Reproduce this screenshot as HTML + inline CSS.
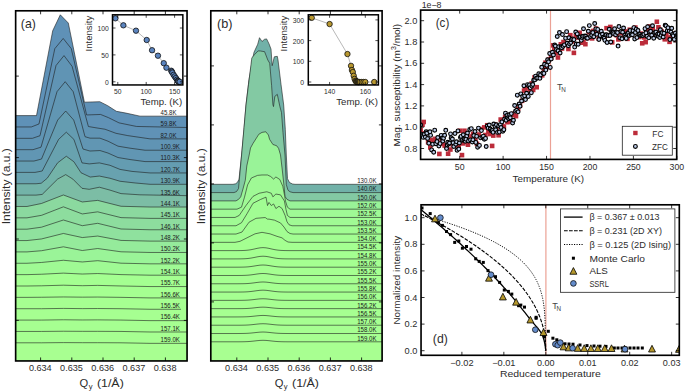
<!DOCTYPE html><html><head><meta charset="utf-8"><style>html,body{margin:0;padding:0;background:#fff;overflow:hidden}svg{display:block}</style></head><body><svg xmlns="http://www.w3.org/2000/svg" width="685" height="392" viewBox="0 0 685 392" font-family='"Liberation Sans", sans-serif'>
<rect width="685" height="392" fill="#fff"/>
<defs>
<clipPath id="ca"><rect x="15.65" y="10.8" width="171.4" height="350.15"/></clipPath>
<clipPath id="cb"><rect x="210.8" y="10.8" width="171.3" height="350.15"/></clipPath>
</defs>
<g clip-path="url(#ca)">
<polygon points="15.5,115.6 36.5,115.6 52.7,30.8 60.3,14.8 68.3,23 84.4,102.2 99.8,101.7 107.7,105.7 116.4,111.3 126,113.1 140,116.15 187,116.15 189.05,362.95 13.65,362.95" fill="#5f91b7" stroke="none"/>
<polyline points="15.5,115.6 36.5,115.6 52.7,30.8 60.3,14.8 68.3,23 84.4,102.2 99.8,101.7 107.7,105.7 116.4,111.3 126,113.1 140,116.15 187,116.15" fill="none" stroke="#1e1e1e" stroke-width="0.6" stroke-linejoin="round"/>
<polygon points="15.5,126.96 31.3,126.96 39,123.96 54.8,48.66 63.2,38.46 71.3,48.66 86.6,114.96 100.6,114.46 108.5,117.66 119,122.86 136.5,126.46 187,127.51 189.05,362.95 13.65,362.95" fill="#6092b6" stroke="none"/>
<polyline points="15.5,126.96 31.3,126.96 39,123.96 54.8,48.66 63.2,38.46 71.3,48.66 86.6,114.96 100.6,114.46 108.5,117.66 119,122.86 136.5,126.46 187,127.51" fill="none" stroke="#1e1e1e" stroke-width="0.6" stroke-linejoin="round"/>
<polygon points="15.5,138.32 32.4,138.32 40,135.72 56,65.52 64,55.62 72.1,66.32 88.4,126.52 96,127.82 105,129.22 116,133.32 127.8,135.62 150,138.87 187,138.87 189.05,362.95 13.65,362.95" fill="#6094b4" stroke="none"/>
<polyline points="15.5,138.32 32.4,138.32 40,135.72 56,65.52 64,55.62 72.1,66.32 88.4,126.52 96,127.82 105,129.22 116,133.32 127.8,135.62 150,138.87 187,138.87" fill="none" stroke="#1e1e1e" stroke-width="0.6" stroke-linejoin="round"/>
<polygon points="15.5,149.68 33,149.68 41,147.18 57,91.68 65.2,81.68 73.2,91.68 85,136.68 90,138.18 100,138.18 108,141.18 118,146.18 130,148.18 145,150.23 187,150.23 189.05,362.95 13.65,362.95" fill="#6196b3" stroke="none"/>
<polyline points="15.5,149.68 33,149.68 41,147.18 57,91.68 65.2,81.68 73.2,91.68 85,136.68 90,138.18 100,138.18 108,141.18 118,146.18 130,148.18 145,150.23 187,150.23" fill="none" stroke="#1e1e1e" stroke-width="0.6" stroke-linejoin="round"/>
<polygon points="15.5,161.04 34,161.04 41.5,159.04 57.7,120.04 65.7,111.04 73.7,120.04 83,149.04 90,151.04 100,150.54 108,153.04 118,157.54 130,159.54 145,161.59 187,161.59 189.05,362.95 13.65,362.95" fill="#649cb1" stroke="none"/>
<polyline points="15.5,161.04 34,161.04 41.5,159.04 57.7,120.04 65.7,111.04 73.7,120.04 83,149.04 90,151.04 100,150.54 108,153.04 118,157.54 130,159.54 145,161.59 187,161.59" fill="none" stroke="#1e1e1e" stroke-width="0.6" stroke-linejoin="round"/>
<polygon points="15.5,172.4 35,172.4 42.2,171 58.6,139.4 66.3,132.2 73.9,139.4 82,162.9 89.2,163.9 99.4,162.9 110,165.3 120,169.4 132,171.4 150,172.95 187,172.95 189.05,362.95 13.65,362.95" fill="#68a2af" stroke="none"/>
<polyline points="15.5,172.4 35,172.4 42.2,171 58.6,139.4 66.3,132.2 73.9,139.4 82,162.9 89.2,163.9 99.4,162.9 110,165.3 120,169.4 132,171.4 150,172.95 187,172.95" fill="none" stroke="#1e1e1e" stroke-width="0.6" stroke-linejoin="round"/>
<polygon points="15.5,183.76 36,183.76 41.2,183.26 47.3,178.16 57.6,162.86 66.3,156.26 73.9,161.76 81,172.76 90.2,177.06 99.4,176.06 110,178.26 120,181.26 135,182.96 150,184.31 187,184.31 189.05,362.95 13.65,362.95" fill="#73b3a8" stroke="none"/>
<polyline points="15.5,183.76 36,183.76 41.2,183.26 47.3,178.16 57.6,162.86 66.3,156.26 73.9,161.76 81,172.76 90.2,177.06 99.4,176.06 110,178.26 120,181.26 135,182.96 150,184.31 187,184.31" fill="none" stroke="#1e1e1e" stroke-width="0.6" stroke-linejoin="round"/>
<polygon points="15.5,195.12 36,195.12 42.2,194.42 57.6,179.12 65.7,174.62 72.9,179.12 82,188.32 89.2,189.32 99.4,187.22 110,190.12 121,193.62 140,194.82 187,195.67 189.05,362.95 13.65,362.95" fill="#7cbda5" stroke="none"/>
<polyline points="15.5,195.12 36,195.12 42.2,194.42 57.6,179.12 65.7,174.62 72.9,179.12 82,188.32 89.2,189.32 99.4,187.22 110,190.12 121,193.62 140,194.82 187,195.67" fill="none" stroke="#1e1e1e" stroke-width="0.6" stroke-linejoin="round"/>
<polygon points="15.5,206.48 27,206.48 41.5,203.48 63.4,194.98 82.3,201.98 97.7,200.38 121,206.28 150,207.03 187,207.03 189.05,362.95 13.65,362.95" fill="#8bd99f" stroke="none"/>
<polyline points="15.5,206.48 27,206.48 41.5,203.48 63.4,194.98 82.3,201.98 97.7,200.38 121,206.28 150,207.03 187,207.03" fill="none" stroke="#1e1e1e" stroke-width="0.6" stroke-linejoin="round"/>
<polygon points="15.5,217.84 27,217.84 41.5,215.34 63.4,206.84 82.3,213.94 97.7,211.84 121,217.64 150,218.39 187,218.39 189.05,362.95 13.65,362.95" fill="#8ddd9e" stroke="none"/>
<polyline points="15.5,217.84 27,217.84 41.5,215.34 63.4,206.84 82.3,213.94 97.7,211.84 121,217.64 150,218.39 187,218.39" fill="none" stroke="#1e1e1e" stroke-width="0.6" stroke-linejoin="round"/>
<polygon points="15.5,229.2 27,229.2 41.5,227.2 63.4,220 82.3,225.7 97.7,223.3 121,229 150,229.75 187,229.75 189.05,362.95 13.65,362.95" fill="#8fe19e" stroke="none"/>
<polyline points="15.5,229.2 27,229.2 41.5,227.2 63.4,220 82.3,225.7 97.7,223.3 121,229 150,229.75 187,229.75" fill="none" stroke="#1e1e1e" stroke-width="0.6" stroke-linejoin="round"/>
<polygon points="15.5,240.56 27,240.56 41.5,238.96 63.4,233.46 82.3,237.56 97.7,236.06 121,240.41 150,241.11 187,241.11 189.05,362.95 13.65,362.95" fill="#95eb9b" stroke="none"/>
<polyline points="15.5,240.56 27,240.56 41.5,238.96 63.4,233.46 82.3,237.56 97.7,236.06 121,240.41 150,241.11 187,241.11" fill="none" stroke="#1e1e1e" stroke-width="0.6" stroke-linejoin="round"/>
<polygon points="15.5,251.92 27,251.92 41.5,250.72 63.4,246.82 82.3,250.52 97.7,248.52 121,251.81 150,252.47 187,252.47 189.05,362.95 13.65,362.95" fill="#9af498" stroke="none"/>
<polyline points="15.5,251.92 27,251.92 41.5,250.72 63.4,246.82 82.3,250.52 97.7,248.52 121,251.81 150,252.47 187,252.47" fill="none" stroke="#1e1e1e" stroke-width="0.6" stroke-linejoin="round"/>
<polygon points="15.5,263.28 27,263.28 41.5,262.48 63.4,260.28 82.3,261.98 97.7,260.68 121,263.19 150,263.83 187,263.83 189.05,362.95 13.65,362.95" fill="#9ffa94" stroke="none"/>
<polyline points="15.5,263.28 27,263.28 41.5,262.48 63.4,260.28 82.3,261.98 97.7,260.68 121,263.19 150,263.83 187,263.83" fill="none" stroke="#1e1e1e" stroke-width="0.6" stroke-linejoin="round"/>
<polygon points="15.5,274.64 27,274.64 41.5,274.24 63.4,273.14 82.3,274.04 97.7,273.54 121,274.6 150,275.19 187,275.19 189.05,362.95 13.65,362.95" fill="#a4ff91" stroke="none"/>
<polyline points="15.5,274.64 27,274.64 41.5,274.24 63.4,273.14 82.3,274.04 97.7,273.54 121,274.6 150,275.19 187,275.19" fill="none" stroke="#1e1e1e" stroke-width="0.6" stroke-linejoin="round"/>
<polygon points="15.5,286 27,286 41.5,285.8 63.4,285.2 82.3,285.7 97.7,285.4 121,285.98 150,286.55 187,286.55 189.05,362.95 13.65,362.95" fill="#a5ff91" stroke="none"/>
<polyline points="15.5,286 27,286 41.5,285.8 63.4,285.2 82.3,285.7 97.7,285.4 121,285.98 150,286.55 187,286.55" fill="none" stroke="#1e1e1e" stroke-width="0.6" stroke-linejoin="round"/>
<polygon points="15.5,297.36 27,297.36 41.5,297.26 63.4,296.96 82.3,297.16 97.7,297.06 121,297.35 150,297.91 187,297.91 189.05,362.95 13.65,362.95" fill="#a6ff91" stroke="none"/>
<polyline points="15.5,297.36 27,297.36 41.5,297.26 63.4,296.96 82.3,297.16 97.7,297.06 121,297.35 150,297.91 187,297.91" fill="none" stroke="#1e1e1e" stroke-width="0.6" stroke-linejoin="round"/>
<polygon points="15.5,308.72 27,308.72 41.5,308.72 63.4,308.42 82.3,308.62 97.7,308.52 121,308.71 150,309.27 187,309.27 189.05,362.95 13.65,362.95" fill="#a6ff91" stroke="none"/>
<polyline points="15.5,308.72 27,308.72 41.5,308.72 63.4,308.42 82.3,308.62 97.7,308.52 121,308.71 150,309.27 181,309.27" fill="none" stroke="#1e1e1e" stroke-width="0.6" stroke-linejoin="round"/>
<polygon points="15.5,320.08 27,320.08 41.5,320.08 63.4,319.78 82.3,319.98 97.7,319.88 121,320.07 150,320.63 187,320.63 189.05,362.95 13.65,362.95" fill="#a6ff91" stroke="none"/>
<polyline points="15.5,320.08 27,320.08 41.5,320.08 63.4,319.78 82.3,319.98 97.7,319.88 121,320.07 150,320.63 187,320.63" fill="none" stroke="#1e1e1e" stroke-width="0.6" stroke-linejoin="round"/>
<polygon points="15.5,331.44 27,331.44 41.5,331.44 63.4,331.24 82.3,331.34 97.7,331.34 121,331.44 150,331.99 187,331.99 189.05,362.95 13.65,362.95" fill="#a6ff91" stroke="none"/>
<polyline points="15.5,331.44 27,331.44 41.5,331.44 63.4,331.24 82.3,331.34 97.7,331.34 121,331.44 150,331.99 187,331.99" fill="none" stroke="#1e1e1e" stroke-width="0.6" stroke-linejoin="round"/>
<polygon points="15.5,342.8 27,342.8 41.5,342.8 63.4,342.6 82.3,342.7 97.7,342.7 121,342.8 150,343.35 187,343.35 189.05,362.95 13.65,362.95" fill="#a8ff91" stroke="none"/>
<polyline points="15.5,342.8 27,342.8 41.5,342.8 63.4,342.6 82.3,342.7 97.7,342.7 121,342.8 150,343.35 187,343.35" fill="none" stroke="#1e1e1e" stroke-width="0.6" stroke-linejoin="round"/>
</g>
<text x="160.6" y="115" font-size="7.0" text-anchor="start" fill="#1a1a1a" textLength="15.91" lengthAdjust="spacingAndGlyphs">45.8K</text>
<text x="160.6" y="126.36" font-size="7.0" text-anchor="start" fill="#1a1a1a" textLength="15.91" lengthAdjust="spacingAndGlyphs">59.8K</text>
<text x="160.6" y="137.72" font-size="7.0" text-anchor="start" fill="#1a1a1a" textLength="15.91" lengthAdjust="spacingAndGlyphs">82.0K</text>
<text x="160.6" y="149.08" font-size="7.0" text-anchor="start" fill="#1a1a1a" textLength="19.3" lengthAdjust="spacingAndGlyphs">100.9K</text>
<text x="160.6" y="160.44" font-size="7.0" text-anchor="start" fill="#1a1a1a" textLength="19.3" lengthAdjust="spacingAndGlyphs">110.3K</text>
<text x="160.6" y="171.8" font-size="7.0" text-anchor="start" fill="#1a1a1a" textLength="19.3" lengthAdjust="spacingAndGlyphs">120.7K</text>
<text x="160.6" y="183.16" font-size="7.0" text-anchor="start" fill="#1a1a1a" textLength="19.3" lengthAdjust="spacingAndGlyphs">130.9K</text>
<text x="160.6" y="194.52" font-size="7.0" text-anchor="start" fill="#1a1a1a" textLength="19.3" lengthAdjust="spacingAndGlyphs">135.6K</text>
<text x="160.6" y="205.88" font-size="7.0" text-anchor="start" fill="#1a1a1a" textLength="19.3" lengthAdjust="spacingAndGlyphs">144.1K</text>
<text x="160.6" y="217.24" font-size="7.0" text-anchor="start" fill="#1a1a1a" textLength="19.3" lengthAdjust="spacingAndGlyphs">145.1K</text>
<text x="160.6" y="228.6" font-size="7.0" text-anchor="start" fill="#1a1a1a" textLength="19.3" lengthAdjust="spacingAndGlyphs">146.1K</text>
<text x="160.6" y="239.96" font-size="7.0" text-anchor="start" fill="#1a1a1a" textLength="19.3" lengthAdjust="spacingAndGlyphs">148.2K</text>
<text x="160.6" y="251.32" font-size="7.0" text-anchor="start" fill="#1a1a1a" textLength="19.3" lengthAdjust="spacingAndGlyphs">150.2K</text>
<text x="160.6" y="262.68" font-size="7.0" text-anchor="start" fill="#1a1a1a" textLength="19.3" lengthAdjust="spacingAndGlyphs">152.2K</text>
<text x="160.6" y="274.04" font-size="7.0" text-anchor="start" fill="#1a1a1a" textLength="19.3" lengthAdjust="spacingAndGlyphs">154.1K</text>
<text x="160.6" y="285.4" font-size="7.0" text-anchor="start" fill="#1a1a1a" textLength="19.3" lengthAdjust="spacingAndGlyphs">155.7K</text>
<text x="160.6" y="296.76" font-size="7.0" text-anchor="start" fill="#1a1a1a" textLength="19.3" lengthAdjust="spacingAndGlyphs">156.6K</text>
<text x="160.6" y="308.12" font-size="7.0" text-anchor="start" fill="#1a1a1a" textLength="19.3" lengthAdjust="spacingAndGlyphs">156.5K</text>
<text x="160.6" y="319.48" font-size="7.0" text-anchor="start" fill="#1a1a1a" textLength="19.3" lengthAdjust="spacingAndGlyphs">156.4K</text>
<text x="160.6" y="330.84" font-size="7.0" text-anchor="start" fill="#1a1a1a" textLength="19.3" lengthAdjust="spacingAndGlyphs">157.1K</text>
<text x="160.6" y="342.2" font-size="7.0" text-anchor="start" fill="#1a1a1a" textLength="19.3" lengthAdjust="spacingAndGlyphs">159.0K</text>
<g clip-path="url(#cb)">
<polygon points="211,184.3 233,184.3 235.5,183.8 237.5,182.3 239,179.3 241.6,155 244,129.3 246,105 248.8,81 252.4,60 254,52.3 257.7,44.3 259.5,37.7 262,41.5 264.5,39.3 266.6,38.9 269,43.8 271,49.1 272.2,65.7 274.3,56.8 277.3,56.3 278,60 281,84.3 283.7,105 285.3,129.3 286.3,155 287.5,178.7 289.5,182.5 292.6,184 295,184.3 383,184.3 384.1,362.95 208.8,362.95" fill="#71b1a8" stroke="none"/>
<polyline points="211,184.3 233,184.3 235.5,183.8 237.5,182.3 239,179.3 241.6,155 244,129.3 246,105 248.8,81 252.4,60 254,52.3 257.7,44.3 259.5,37.7 262,41.5 264.5,39.3 266.6,38.9 269,43.8 271,49.1 272.2,65.7 274.3,56.8 277.3,56.3 278,60 281,84.3 283.7,105 285.3,129.3 286.3,155 287.5,178.7 289.5,182.5 292.6,184 295,184.3 383,184.3" fill="none" stroke="#1e1e1e" stroke-width="0.6" stroke-linejoin="round"/>
<polygon points="211,192.59 234,192.59 236.5,191.59 238.5,188.59 241.6,154.99 244,127.59 246,104.99 248.5,84.59 251.8,57.99 254.5,54.59 258.2,50.89 260.4,50.99 264.6,51.69 267.8,59.99 269.7,63.19 271.6,85.49 272.9,104.59 273.5,106.59 274.8,96.39 277.3,94.39 279.9,106.59 281.5,112.59 283,132.59 285,154.99 286.3,184.59 288,190.19 290,191.79 293,192.59 383,192.59 384.1,362.95 208.8,362.95" fill="#83c9a3" stroke="none"/>
<polyline points="211,192.59 234,192.59 236.5,191.59 238.5,188.59 241.6,154.99 244,127.59 246,104.99 248.5,84.59 251.8,57.99 254.5,54.59 258.2,50.89 260.4,50.99 264.6,51.69 267.8,59.99 269.7,63.19 271.6,85.49 272.9,104.59 273.5,106.59 274.8,96.39 277.3,94.39 279.9,106.59 281.5,112.59 283,132.59 285,154.99 286.3,184.59 288,190.19 290,191.79 293,192.59 383,192.59" fill="none" stroke="#1e1e1e" stroke-width="0.6" stroke-linejoin="round"/>
<polygon points="211,200.88 236,200.88 238.5,199.38 240.7,196.88 243,188.88 245.3,180.28 246.8,165.88 249.2,154.98 250.5,147.98 253.1,143.28 258.8,134.28 262,132.38 265.8,131.78 268.4,134.98 269.6,139.38 272.9,144.48 276.7,145.78 278.6,148.38 280.5,154.98 282.4,170.98 284,185.88 285,196.48 287,199.38 290,200.88 383,200.88 384.1,362.95 208.8,362.95" fill="#99f398" stroke="none"/>
<polyline points="211,200.88 236,200.88 238.5,199.38 240.7,196.88 243,188.88 245.3,180.28 246.8,165.88 249.2,154.98 250.5,147.98 253.1,143.28 258.8,134.28 262,132.38 265.8,131.78 268.4,134.98 269.6,139.38 272.9,144.48 276.7,145.78 278.6,148.38 280.5,154.98 282.4,170.98 284,185.88 285,196.48 287,199.38 290,200.88 383,200.88" fill="none" stroke="#1e1e1e" stroke-width="0.6" stroke-linejoin="round"/>
<polygon points="211,209.17 237,209.17 241.5,207.17 244.5,197.17 247.6,184.87 251.4,177.97 257.6,175.37 262,174.97 267.5,174.97 270.6,176.47 273.6,179.07 275.9,176.97 279.8,179.47 282.8,186.37 284.5,195.17 285.5,201.17 287.4,207.17 290,209.17 383,209.17 384.1,362.95 208.8,362.95" fill="#9ff995" stroke="none"/>
<polyline points="211,209.17 237,209.17 241.5,207.17 244.5,197.17 247.6,184.87 251.4,177.97 257.6,175.37 262,174.97 267.5,174.97 270.6,176.47 273.6,179.07 275.9,176.97 279.8,179.47 282.8,186.37 284.5,195.17 285.5,201.17 287.4,207.17 290,209.17 383,209.17" fill="none" stroke="#1e1e1e" stroke-width="0.6" stroke-linejoin="round"/>
<polygon points="211,217.46 235,217.46 239.2,215.46 246,205.46 253,196.36 259.1,193.26 266.8,191.76 271.3,193.26 272.9,196.86 275.9,194.06 280.5,194.86 284.4,200.96 286,209.46 287.4,215.46 290,217.46 383,217.46 384.1,362.95 208.8,362.95" fill="#a0fa94" stroke="none"/>
<polyline points="211,217.46 235,217.46 239.2,215.46 246,205.46 253,196.36 259.1,193.26 266.8,191.76 271.3,193.26 272.9,196.86 275.9,194.06 280.5,194.86 284.4,200.96 286,209.46 287.4,215.46 290,217.46 383,217.46" fill="none" stroke="#1e1e1e" stroke-width="0.6" stroke-linejoin="round"/>
<polygon points="211,225.75 236,225.75 241.5,222.75 247,213.75 253,203.25 260.6,199.45 266,197.15 267.5,205.55 269,202.45 271.3,205.55 273.6,203.95 275.9,208.55 279,206.25 282.1,208.55 285.1,215.45 287,221.75 289,224.75 292,225.75 383,225.75 384.1,362.95 208.8,362.95" fill="#a1fc93" stroke="none"/>
<polyline points="211,225.75 236,225.75 241.5,222.75 247,213.75 253,203.25 260.6,199.45 266,197.15 267.5,205.55 269,202.45 271.3,205.55 273.6,203.95 275.9,208.55 279,206.25 282.1,208.55 285.1,215.45 287,221.75 289,224.75 292,225.75 383,225.75" fill="none" stroke="#1e1e1e" stroke-width="0.6" stroke-linejoin="round"/>
<polygon points="211,234.04 236,234.04 242,232.04 249.1,222.14 256,218.34 265.2,217.54 267.5,219.14 269,219.14 274.4,220.14 280.5,222.94 284,227.04 287,231.54 290,233.54 293,234.04 383,234.04 384.1,362.95 208.8,362.95" fill="#a2fd92" stroke="none"/>
<polyline points="211,234.04 236,234.04 242,232.04 249.1,222.14 256,218.34 265.2,217.54 267.5,219.14 269,219.14 274.4,220.14 280.5,222.94 284,227.04 287,231.54 290,233.54 293,234.04 383,234.04" fill="none" stroke="#1e1e1e" stroke-width="0.6" stroke-linejoin="round"/>
<polygon points="211,242.33 235,242.33 240,241.33 248,237.33 255,233.83 262,232.33 270,233.83 277,236.33 282,237.83 285,240.33 288,242.03 292,242.33 383,242.33 384.1,362.95 208.8,362.95" fill="#a4ff91" stroke="none"/>
<polyline points="211,242.33 235,242.33 240,241.33 248,237.33 255,233.83 262,232.33 270,233.83 277,236.33 282,237.83 285,240.33 288,242.03 292,242.33 383,242.33" fill="none" stroke="#1e1e1e" stroke-width="0.6" stroke-linejoin="round"/>
<polygon points="211,250.62 230,250.62 233,250.62 236,250.61 239,250.59 242,250.54 245,250.41 248,250.15 251,249.71 254,249.08 257,248.39 260,247.84 263,247.62 266,247.84 269,248.39 272,249.08 275,249.71 278,250.15 281,250.41 284,250.54 287,250.59 290,250.61 293,250.62 296,250.62 383,250.62 384.1,362.95 208.8,362.95" fill="#a4ff91" stroke="none"/>
<polyline points="211,250.62 230,250.62 233,250.62 236,250.61 239,250.59 242,250.54 245,250.41 248,250.15 251,249.71 254,249.08 257,248.39 260,247.84 263,247.62 266,247.84 269,248.39 272,249.08 275,249.71 278,250.15 281,250.41 284,250.54 287,250.59 290,250.61 293,250.62 296,250.62 383,250.62" fill="none" stroke="#1e1e1e" stroke-width="0.6" stroke-linejoin="round"/>
<polygon points="211,258.91 230,258.91 233,258.91 236,258.9 239,258.89 242,258.84 245,258.72 248,258.49 251,258.09 254,257.53 257,256.9 260,256.4 263,256.21 266,256.4 269,256.9 272,257.53 275,258.09 278,258.49 281,258.72 284,258.84 287,258.89 290,258.9 293,258.91 296,258.91 383,258.91 384.1,362.95 208.8,362.95" fill="#a5ff91" stroke="none"/>
<polyline points="211,258.91 230,258.91 233,258.91 236,258.9 239,258.89 242,258.84 245,258.72 248,258.49 251,258.09 254,257.53 257,256.9 260,256.4 263,256.21 266,256.4 269,256.9 272,257.53 275,258.09 278,258.49 281,258.72 284,258.84 287,258.89 290,258.9 293,258.91 296,258.91 383,258.91" fill="none" stroke="#1e1e1e" stroke-width="0.6" stroke-linejoin="round"/>
<polygon points="211,267.2 230,267.2 233,267.2 236,267.19 239,267.18 242,267.14 245,267.05 248,266.86 251,266.53 254,266.07 257,265.57 260,265.16 263,265 266,265.16 269,265.57 272,266.07 275,266.53 278,266.86 281,267.05 284,267.14 287,267.18 290,267.19 293,267.2 296,267.2 383,267.2 384.1,362.95 208.8,362.95" fill="#a5ff91" stroke="none"/>
<polyline points="211,267.2 230,267.2 233,267.2 236,267.19 239,267.18 242,267.14 245,267.05 248,266.86 251,266.53 254,266.07 257,265.57 260,265.16 263,265 266,265.16 269,265.57 272,266.07 275,266.53 278,266.86 281,267.05 284,267.14 287,267.18 290,267.19 293,267.2 296,267.2 383,267.2" fill="none" stroke="#1e1e1e" stroke-width="0.6" stroke-linejoin="round"/>
<polygon points="211,275.49 230,275.49 233,275.49 236,275.49 239,275.47 242,275.44 245,275.35 248,275.18 251,274.88 254,274.47 257,274 260,273.63 263,273.49 266,273.63 269,274 272,274.47 275,274.88 278,275.18 281,275.35 284,275.44 287,275.47 290,275.49 293,275.49 296,275.49 383,275.49 384.1,362.95 208.8,362.95" fill="#a5ff91" stroke="none"/>
<polyline points="211,275.49 230,275.49 233,275.49 236,275.49 239,275.47 242,275.44 245,275.35 248,275.18 251,274.88 254,274.47 257,274 260,273.63 263,273.49 266,273.63 269,274 272,274.47 275,274.88 278,275.18 281,275.35 284,275.44 287,275.47 290,275.49 293,275.49 296,275.49 383,275.49" fill="none" stroke="#1e1e1e" stroke-width="0.6" stroke-linejoin="round"/>
<polygon points="211,283.78 230,283.78 233,283.78 236,283.78 239,283.76 242,283.73 245,283.66 248,283.5 251,283.23 254,282.86 257,282.44 260,282.11 263,281.98 266,282.11 269,282.44 272,282.86 275,283.23 278,283.5 281,283.66 284,283.73 287,283.76 290,283.78 293,283.78 296,283.78 383,283.78 384.1,362.95 208.8,362.95" fill="#a5ff91" stroke="none"/>
<polyline points="211,283.78 230,283.78 233,283.78 236,283.78 239,283.76 242,283.73 245,283.66 248,283.5 251,283.23 254,282.86 257,282.44 260,282.11 263,281.98 266,282.11 269,282.44 272,282.86 275,283.23 278,283.5 281,283.66 284,283.73 287,283.76 290,283.78 293,283.78 296,283.78 383,283.78" fill="none" stroke="#1e1e1e" stroke-width="0.6" stroke-linejoin="round"/>
<polygon points="211,292.07 230,292.07 233,292.07 236,292.07 239,292.05 242,292.02 245,291.94 248,291.77 251,291.49 254,291.1 257,290.66 260,290.31 263,290.17 266,290.31 269,290.66 272,291.1 275,291.49 278,291.77 281,291.94 284,292.02 287,292.05 290,292.07 293,292.07 296,292.07 383,292.07 384.1,362.95 208.8,362.95" fill="#a5ff91" stroke="none"/>
<polyline points="211,292.07 230,292.07 233,292.07 236,292.07 239,292.05 242,292.02 245,291.94 248,291.77 251,291.49 254,291.1 257,290.66 260,290.31 263,290.17 266,290.31 269,290.66 272,291.1 275,291.49 278,291.77 281,291.94 284,292.02 287,292.05 290,292.07 293,292.07 296,292.07 383,292.07" fill="none" stroke="#1e1e1e" stroke-width="0.6" stroke-linejoin="round"/>
<polygon points="211,300.36 230,300.36 233,300.36 236,300.36 239,300.35 242,300.32 245,300.25 248,300.11 251,299.87 254,299.54 257,299.17 260,298.87 263,298.76 266,298.87 269,299.17 272,299.54 275,299.87 278,300.11 281,300.25 284,300.32 287,300.35 290,300.36 293,300.36 296,300.36 383,300.36 384.1,362.95 208.8,362.95" fill="#a6ff91" stroke="none"/>
<polyline points="211,300.36 230,300.36 233,300.36 236,300.36 239,300.35 242,300.32 245,300.25 248,300.11 251,299.87 254,299.54 257,299.17 260,298.87 263,298.76 266,298.87 269,299.17 272,299.54 275,299.87 278,300.11 281,300.25 284,300.32 287,300.35 290,300.36 293,300.36 296,300.36 383,300.36" fill="none" stroke="#1e1e1e" stroke-width="0.6" stroke-linejoin="round"/>
<polygon points="211,308.65 230,308.65 233,308.65 236,308.65 239,308.64 242,308.61 245,308.55 248,308.42 251,308.19 254,307.88 257,307.54 260,307.26 263,307.15 266,307.26 269,307.54 272,307.88 275,308.19 278,308.42 281,308.55 284,308.61 287,308.64 290,308.65 293,308.65 296,308.65 383,308.65 384.1,362.95 208.8,362.95" fill="#a6ff91" stroke="none"/>
<polyline points="211,308.65 230,308.65 233,308.65 236,308.65 239,308.64 242,308.61 245,308.55 248,308.42 251,308.19 254,307.88 257,307.54 260,307.26 263,307.15 266,307.26 269,307.54 272,307.88 275,308.19 278,308.42 281,308.55 284,308.61 287,308.64 290,308.65 293,308.65 296,308.65 383,308.65" fill="none" stroke="#1e1e1e" stroke-width="0.6" stroke-linejoin="round"/>
<polygon points="211,316.94 230,316.94 233,316.94 236,316.94 239,316.93 242,316.9 245,316.84 248,316.71 251,316.48 254,316.17 257,315.83 260,315.55 263,315.44 266,315.55 269,315.83 272,316.17 275,316.48 278,316.71 281,316.84 284,316.9 287,316.93 290,316.94 293,316.94 296,316.94 383,316.94 384.1,362.95 208.8,362.95" fill="#a6ff91" stroke="none"/>
<polyline points="211,316.94 230,316.94 233,316.94 236,316.94 239,316.93 242,316.9 245,316.84 248,316.71 251,316.48 254,316.17 257,315.83 260,315.55 263,315.44 266,315.55 269,315.83 272,316.17 275,316.48 278,316.71 281,316.84 284,316.9 287,316.93 290,316.94 293,316.94 296,316.94 383,316.94" fill="none" stroke="#1e1e1e" stroke-width="0.6" stroke-linejoin="round"/>
<polygon points="211,325.23 230,325.23 233,325.23 236,325.23 239,325.22 242,325.19 245,325.13 248,325 251,324.77 254,324.46 257,324.12 260,323.84 263,323.73 266,323.84 269,324.12 272,324.46 275,324.77 278,325 281,325.13 284,325.19 287,325.22 290,325.23 293,325.23 296,325.23 383,325.23 384.1,362.95 208.8,362.95" fill="#a6ff91" stroke="none"/>
<polyline points="211,325.23 230,325.23 233,325.23 236,325.23 239,325.22 242,325.19 245,325.13 248,325 251,324.77 254,324.46 257,324.12 260,323.84 263,323.73 266,323.84 269,324.12 272,324.46 275,324.77 278,325 281,325.13 284,325.19 287,325.22 290,325.23 293,325.23 296,325.23 383,325.23" fill="none" stroke="#1e1e1e" stroke-width="0.6" stroke-linejoin="round"/>
<polygon points="211,333.52 230,333.52 233,333.52 236,333.52 239,333.51 242,333.48 245,333.42 248,333.29 251,333.06 254,332.75 257,332.41 260,332.13 263,332.02 266,332.13 269,332.41 272,332.75 275,333.06 278,333.29 281,333.42 284,333.48 287,333.51 290,333.52 293,333.52 296,333.52 383,333.52 384.1,362.95 208.8,362.95" fill="#a7ff91" stroke="none"/>
<polyline points="211,333.52 230,333.52 233,333.52 236,333.52 239,333.51 242,333.48 245,333.42 248,333.29 251,333.06 254,332.75 257,332.41 260,332.13 263,332.02 266,332.13 269,332.41 272,332.75 275,333.06 278,333.29 281,333.42 284,333.48 287,333.51 290,333.52 293,333.52 296,333.52 383,333.52" fill="none" stroke="#1e1e1e" stroke-width="0.6" stroke-linejoin="round"/>
<polygon points="211,341.81 230,341.81 233,341.81 236,341.81 239,341.8 242,341.77 245,341.71 248,341.58 251,341.35 254,341.04 257,340.7 260,340.42 263,340.31 266,340.42 269,340.7 272,341.04 275,341.35 278,341.58 281,341.71 284,341.77 287,341.8 290,341.81 293,341.81 296,341.81 383,341.81 384.1,362.95 208.8,362.95" fill="#a8ff91" stroke="none"/>
<polyline points="211,341.81 230,341.81 233,341.81 236,341.81 239,341.8 242,341.77 245,341.71 248,341.58 251,341.35 254,341.04 257,340.7 260,340.42 263,340.31 266,340.42 269,340.7 272,341.04 275,341.35 278,341.58 281,341.71 284,341.77 287,341.8 290,341.81 293,341.81 296,341.81 383,341.81" fill="none" stroke="#1e1e1e" stroke-width="0.6" stroke-linejoin="round"/>
</g>
<text x="357.2" y="183.15" font-size="7.0" text-anchor="start" fill="#1a1a1a" textLength="19.3" lengthAdjust="spacingAndGlyphs">130.0K</text>
<text x="357.2" y="191.44" font-size="7.0" text-anchor="start" fill="#1a1a1a" textLength="19.3" lengthAdjust="spacingAndGlyphs">140.0K</text>
<text x="357.2" y="199.73" font-size="7.0" text-anchor="start" fill="#1a1a1a" textLength="19.3" lengthAdjust="spacingAndGlyphs">150.0K</text>
<text x="357.2" y="208.02" font-size="7.0" text-anchor="start" fill="#1a1a1a" textLength="19.3" lengthAdjust="spacingAndGlyphs">152.0K</text>
<text x="357.2" y="216.31" font-size="7.0" text-anchor="start" fill="#1a1a1a" textLength="19.3" lengthAdjust="spacingAndGlyphs">152.5K</text>
<text x="357.2" y="224.6" font-size="7.0" text-anchor="start" fill="#1a1a1a" textLength="19.3" lengthAdjust="spacingAndGlyphs">153.0K</text>
<text x="357.2" y="232.89" font-size="7.0" text-anchor="start" fill="#1a1a1a" textLength="19.3" lengthAdjust="spacingAndGlyphs">153.5K</text>
<text x="357.2" y="241.18" font-size="7.0" text-anchor="start" fill="#1a1a1a" textLength="19.3" lengthAdjust="spacingAndGlyphs">154.0K</text>
<text x="357.2" y="249.47" font-size="7.0" text-anchor="start" fill="#1a1a1a" textLength="19.3" lengthAdjust="spacingAndGlyphs">154.5K</text>
<text x="357.2" y="257.76" font-size="7.0" text-anchor="start" fill="#1a1a1a" textLength="19.3" lengthAdjust="spacingAndGlyphs">154.8K</text>
<text x="357.2" y="266.05" font-size="7.0" text-anchor="start" fill="#1a1a1a" textLength="19.3" lengthAdjust="spacingAndGlyphs">155.0K</text>
<text x="357.2" y="274.34" font-size="7.0" text-anchor="start" fill="#1a1a1a" textLength="19.3" lengthAdjust="spacingAndGlyphs">155.2K</text>
<text x="357.2" y="282.63" font-size="7.0" text-anchor="start" fill="#1a1a1a" textLength="19.3" lengthAdjust="spacingAndGlyphs">155.5K</text>
<text x="357.2" y="290.92" font-size="7.0" text-anchor="start" fill="#1a1a1a" textLength="19.3" lengthAdjust="spacingAndGlyphs">155.8K</text>
<text x="357.2" y="299.21" font-size="7.0" text-anchor="start" fill="#1a1a1a" textLength="19.3" lengthAdjust="spacingAndGlyphs">156.0K</text>
<text x="357.2" y="307.5" font-size="7.0" text-anchor="start" fill="#1a1a1a" textLength="19.3" lengthAdjust="spacingAndGlyphs">156.2K</text>
<text x="357.2" y="315.79" font-size="7.0" text-anchor="start" fill="#1a1a1a" textLength="19.3" lengthAdjust="spacingAndGlyphs">156.5K</text>
<text x="357.2" y="324.08" font-size="7.0" text-anchor="start" fill="#1a1a1a" textLength="19.3" lengthAdjust="spacingAndGlyphs">157.0K</text>
<text x="357.2" y="332.37" font-size="7.0" text-anchor="start" fill="#1a1a1a" textLength="19.3" lengthAdjust="spacingAndGlyphs">158.0K</text>
<text x="357.2" y="340.66" font-size="7.0" text-anchor="start" fill="#1a1a1a" textLength="19.3" lengthAdjust="spacingAndGlyphs">159.0K</text>
<rect x="15.65" y="10.8" width="171.4" height="350.15" fill="none" stroke="#000" stroke-width="1.65"/>
<line x1="40.6" y1="360.95" x2="40.6" y2="357.45" stroke="#000" stroke-width="0.8"/>
<line x1="40.6" y1="10.8" x2="40.6" y2="14.3" stroke="#000" stroke-width="0.8"/>
<line x1="71.8" y1="360.95" x2="71.8" y2="357.45" stroke="#000" stroke-width="0.8"/>
<line x1="71.8" y1="10.8" x2="71.8" y2="14.3" stroke="#000" stroke-width="0.8"/>
<line x1="103" y1="360.95" x2="103" y2="357.45" stroke="#000" stroke-width="0.8"/>
<line x1="103" y1="10.8" x2="103" y2="14.3" stroke="#000" stroke-width="0.8"/>
<line x1="134.2" y1="360.95" x2="134.2" y2="357.45" stroke="#000" stroke-width="0.8"/>
<line x1="134.2" y1="10.8" x2="134.2" y2="14.3" stroke="#000" stroke-width="0.8"/>
<line x1="165.4" y1="360.95" x2="165.4" y2="357.45" stroke="#000" stroke-width="0.8"/>
<line x1="165.4" y1="10.8" x2="165.4" y2="14.3" stroke="#000" stroke-width="0.8"/>
<text x="40.3" y="371" font-size="9.5" text-anchor="middle" fill="#2c2c2c" textLength="22.8" lengthAdjust="spacingAndGlyphs">0.634</text>
<text x="71.5" y="371" font-size="9.5" text-anchor="middle" fill="#2c2c2c" textLength="22.8" lengthAdjust="spacingAndGlyphs">0.635</text>
<text x="102.7" y="371" font-size="9.5" text-anchor="middle" fill="#2c2c2c" textLength="22.8" lengthAdjust="spacingAndGlyphs">0.636</text>
<text x="133.9" y="371" font-size="9.5" text-anchor="middle" fill="#2c2c2c" textLength="22.8" lengthAdjust="spacingAndGlyphs">0.637</text>
<text x="165.1" y="371" font-size="9.5" text-anchor="middle" fill="#2c2c2c" textLength="22.8" lengthAdjust="spacingAndGlyphs">0.638</text>
<line x1="15.65" y1="76.1" x2="18.85" y2="76.1" stroke="#000" stroke-width="0.8"/>
<line x1="187.05" y1="76.1" x2="183.85" y2="76.1" stroke="#000" stroke-width="0.8"/>
<line x1="15.65" y1="157.6" x2="18.85" y2="157.6" stroke="#000" stroke-width="0.8"/>
<line x1="187.05" y1="157.6" x2="183.85" y2="157.6" stroke="#000" stroke-width="0.8"/>
<line x1="15.65" y1="239" x2="18.85" y2="239" stroke="#000" stroke-width="0.8"/>
<line x1="187.05" y1="239" x2="183.85" y2="239" stroke="#000" stroke-width="0.8"/>
<line x1="15.65" y1="320.4" x2="18.85" y2="320.4" stroke="#000" stroke-width="0.8"/>
<line x1="187.05" y1="320.4" x2="183.85" y2="320.4" stroke="#000" stroke-width="0.8"/>
<text x="79.6" y="386.9" font-size="10.8" text-anchor="start" fill="#2c2c2c" textLength="8.7" lengthAdjust="spacingAndGlyphs">Q</text>
<text x="88.65" y="388.6" font-size="7.6" text-anchor="start" fill="#2c2c2c">y</text>
<text x="110.35" y="386.9" font-size="10.8" text-anchor="middle" fill="#2c2c2c" textLength="26.9" lengthAdjust="spacingAndGlyphs">(1/Å)</text>
<text x="9.85" y="186.3" font-size="10.6" text-anchor="middle" fill="#2c2c2c" transform="rotate(-90 9.85 186.3)" textLength="76" lengthAdjust="spacingAndGlyphs">Intensity (a.u.)</text>
<rect x="210.8" y="10.8" width="171.3" height="350.15" fill="none" stroke="#000" stroke-width="1.65"/>
<line x1="236.8" y1="360.95" x2="236.8" y2="357.45" stroke="#000" stroke-width="0.8"/>
<line x1="236.8" y1="10.8" x2="236.8" y2="14.3" stroke="#000" stroke-width="0.8"/>
<line x1="268" y1="360.95" x2="268" y2="357.45" stroke="#000" stroke-width="0.8"/>
<line x1="268" y1="10.8" x2="268" y2="14.3" stroke="#000" stroke-width="0.8"/>
<line x1="299.2" y1="360.95" x2="299.2" y2="357.45" stroke="#000" stroke-width="0.8"/>
<line x1="299.2" y1="10.8" x2="299.2" y2="14.3" stroke="#000" stroke-width="0.8"/>
<line x1="330.4" y1="360.95" x2="330.4" y2="357.45" stroke="#000" stroke-width="0.8"/>
<line x1="330.4" y1="10.8" x2="330.4" y2="14.3" stroke="#000" stroke-width="0.8"/>
<line x1="361.6" y1="360.95" x2="361.6" y2="357.45" stroke="#000" stroke-width="0.8"/>
<line x1="361.6" y1="10.8" x2="361.6" y2="14.3" stroke="#000" stroke-width="0.8"/>
<text x="236.5" y="371" font-size="9.5" text-anchor="middle" fill="#2c2c2c" textLength="22.8" lengthAdjust="spacingAndGlyphs">0.634</text>
<text x="267.7" y="371" font-size="9.5" text-anchor="middle" fill="#2c2c2c" textLength="22.8" lengthAdjust="spacingAndGlyphs">0.635</text>
<text x="298.9" y="371" font-size="9.5" text-anchor="middle" fill="#2c2c2c" textLength="22.8" lengthAdjust="spacingAndGlyphs">0.636</text>
<text x="330.1" y="371" font-size="9.5" text-anchor="middle" fill="#2c2c2c" textLength="22.8" lengthAdjust="spacingAndGlyphs">0.637</text>
<text x="361.3" y="371" font-size="9.5" text-anchor="middle" fill="#2c2c2c" textLength="22.8" lengthAdjust="spacingAndGlyphs">0.638</text>
<line x1="210.8" y1="65.9" x2="214" y2="65.9" stroke="#000" stroke-width="0.8"/>
<line x1="382.1" y1="65.9" x2="378.9" y2="65.9" stroke="#000" stroke-width="0.8"/>
<line x1="210.8" y1="124.9" x2="214" y2="124.9" stroke="#000" stroke-width="0.8"/>
<line x1="382.1" y1="124.9" x2="378.9" y2="124.9" stroke="#000" stroke-width="0.8"/>
<line x1="210.8" y1="183.9" x2="214" y2="183.9" stroke="#000" stroke-width="0.8"/>
<line x1="382.1" y1="183.9" x2="378.9" y2="183.9" stroke="#000" stroke-width="0.8"/>
<line x1="210.8" y1="242.9" x2="214" y2="242.9" stroke="#000" stroke-width="0.8"/>
<line x1="382.1" y1="242.9" x2="378.9" y2="242.9" stroke="#000" stroke-width="0.8"/>
<line x1="210.8" y1="301.9" x2="214" y2="301.9" stroke="#000" stroke-width="0.8"/>
<line x1="382.1" y1="301.9" x2="378.9" y2="301.9" stroke="#000" stroke-width="0.8"/>
<text x="274.7" y="386.9" font-size="10.8" text-anchor="start" fill="#2c2c2c" textLength="8.7" lengthAdjust="spacingAndGlyphs">Q</text>
<text x="283.75" y="388.6" font-size="7.6" text-anchor="start" fill="#2c2c2c">y</text>
<text x="305.45" y="386.9" font-size="10.8" text-anchor="middle" fill="#2c2c2c" textLength="26.9" lengthAdjust="spacingAndGlyphs">(1/Å)</text>
<text x="205" y="186.3" font-size="10.6" text-anchor="middle" fill="#2c2c2c" transform="rotate(-90 205 186.3)" textLength="76" lengthAdjust="spacingAndGlyphs">Intensity (a.u.)</text>
<text x="28.3" y="28.1" font-size="13" text-anchor="middle" fill="#2c2c2c" textLength="15" lengthAdjust="spacingAndGlyphs">(a)</text>
<text x="224.8" y="28.1" font-size="13" text-anchor="middle" fill="#2c2c2c" textLength="15.5" lengthAdjust="spacingAndGlyphs">(b)</text>
<rect x="112.5" y="14.8" width="70.35" height="70.15" fill="#fff"/>
<polyline points="115.41,18.32 123.37,25.31 135.98,30.69 146.71,40 152.05,50.22 157.96,55.71 163.75,63.19 166.42,67.7 171.25,70.72 171.82,71.58 172.38,72.65 173.58,74.81 174.71,76.42 175.85,78.03 176.93,79.65 177.84,80.72 178.35,81.26 178.29,81.26 178.24,81.26 178.63,81.53 179.71,81.8" fill="none" stroke="#888" stroke-width="0.6"/>
<circle cx="115.41" cy="18.32" r="2.7" fill="#5b84bf" stroke="#111" stroke-width="0.8"/>
<circle cx="123.37" cy="25.31" r="2.7" fill="#5b84bf" stroke="#111" stroke-width="0.8"/>
<circle cx="135.98" cy="30.69" r="2.7" fill="#5b84bf" stroke="#111" stroke-width="0.8"/>
<circle cx="146.71" cy="40" r="2.7" fill="#5b84bf" stroke="#111" stroke-width="0.8"/>
<circle cx="152.05" cy="50.22" r="2.7" fill="#5b84bf" stroke="#111" stroke-width="0.8"/>
<circle cx="157.96" cy="55.71" r="2.7" fill="#5b84bf" stroke="#111" stroke-width="0.8"/>
<circle cx="163.75" cy="63.19" r="2.7" fill="#5b84bf" stroke="#111" stroke-width="0.8"/>
<circle cx="166.42" cy="67.7" r="2.7" fill="#5b84bf" stroke="#111" stroke-width="0.8"/>
<circle cx="171.25" cy="70.72" r="2.7" fill="#5b84bf" stroke="#111" stroke-width="0.8"/>
<circle cx="171.82" cy="71.58" r="2.7" fill="#5b84bf" stroke="#111" stroke-width="0.8"/>
<circle cx="172.38" cy="72.65" r="2.7" fill="#5b84bf" stroke="#111" stroke-width="0.8"/>
<circle cx="173.58" cy="74.81" r="2.7" fill="#5b84bf" stroke="#111" stroke-width="0.8"/>
<circle cx="174.71" cy="76.42" r="2.7" fill="#5b84bf" stroke="#111" stroke-width="0.8"/>
<circle cx="175.85" cy="78.03" r="2.7" fill="#5b84bf" stroke="#111" stroke-width="0.8"/>
<circle cx="176.93" cy="79.65" r="2.7" fill="#5b84bf" stroke="#111" stroke-width="0.8"/>
<circle cx="177.84" cy="80.72" r="2.7" fill="#5b84bf" stroke="#111" stroke-width="0.8"/>
<circle cx="178.35" cy="81.26" r="2.7" fill="#5b84bf" stroke="#111" stroke-width="0.8"/>
<circle cx="178.29" cy="81.26" r="2.7" fill="#5b84bf" stroke="#111" stroke-width="0.8"/>
<circle cx="178.24" cy="81.26" r="2.7" fill="#5b84bf" stroke="#111" stroke-width="0.8"/>
<circle cx="178.63" cy="81.53" r="2.7" fill="#5b84bf" stroke="#111" stroke-width="0.8"/>
<circle cx="179.71" cy="81.8" r="2.7" fill="#5b84bf" stroke="#111" stroke-width="0.8"/>
<rect x="112.5" y="14.8" width="70.35" height="70.15" fill="none" stroke="#000" stroke-width="1.5"/>
<line x1="117.8" y1="84.95" x2="117.8" y2="81.95" stroke="#000" stroke-width="0.7"/>
<line x1="117.8" y1="14.8" x2="117.8" y2="17.8" stroke="#000" stroke-width="0.7"/>
<text x="117.8" y="93.9" font-size="8.0" text-anchor="middle" fill="#2c2c2c" textLength="7.5" lengthAdjust="spacingAndGlyphs">50</text>
<line x1="146.2" y1="84.95" x2="146.2" y2="81.95" stroke="#000" stroke-width="0.7"/>
<line x1="146.2" y1="14.8" x2="146.2" y2="17.8" stroke="#000" stroke-width="0.7"/>
<text x="146.2" y="93.9" font-size="8.0" text-anchor="middle" fill="#2c2c2c" textLength="11.25" lengthAdjust="spacingAndGlyphs">100</text>
<line x1="174.6" y1="84.95" x2="174.6" y2="81.95" stroke="#000" stroke-width="0.7"/>
<line x1="174.6" y1="14.8" x2="174.6" y2="17.8" stroke="#000" stroke-width="0.7"/>
<text x="174.6" y="93.9" font-size="8.0" text-anchor="middle" fill="#2c2c2c" textLength="11.25" lengthAdjust="spacingAndGlyphs">150</text>
<line x1="112.5" y1="81.8" x2="115.5" y2="81.8" stroke="#000" stroke-width="0.7"/>
<line x1="182.85" y1="81.8" x2="179.85" y2="81.8" stroke="#000" stroke-width="0.7"/>
<text x="108.8" y="84.7" font-size="8.0" text-anchor="end" fill="#2c2c2c" textLength="3.75" lengthAdjust="spacingAndGlyphs">0</text>
<line x1="112.5" y1="54.9" x2="115.5" y2="54.9" stroke="#000" stroke-width="0.7"/>
<line x1="182.85" y1="54.9" x2="179.85" y2="54.9" stroke="#000" stroke-width="0.7"/>
<text x="108.8" y="57.8" font-size="8.0" text-anchor="end" fill="#2c2c2c" textLength="7.5" lengthAdjust="spacingAndGlyphs">50</text>
<line x1="112.5" y1="28" x2="115.5" y2="28" stroke="#000" stroke-width="0.7"/>
<line x1="182.85" y1="28" x2="179.85" y2="28" stroke="#000" stroke-width="0.7"/>
<text x="108.8" y="30.9" font-size="8.0" text-anchor="end" fill="#2c2c2c" textLength="11.25" lengthAdjust="spacingAndGlyphs">100</text>
<text x="161.3" y="105.4" font-size="8.7" text-anchor="middle" fill="#2c2c2c" textLength="41.6" lengthAdjust="spacingAndGlyphs">Temp. (K)</text>
<text x="91.6" y="33.6" font-size="8.6" text-anchor="middle" fill="#2c2c2c" transform="rotate(-90 91.6 33.6)" textLength="35.8" lengthAdjust="spacingAndGlyphs">Intensity</text>
<rect x="308.3" y="14.8" width="70.1" height="70.15" fill="#fff"/>
<polyline points="311.75,17.83 329.6,24.04 347.45,54.05 351.02,65.85 351.91,69.99 352.81,72.06 353.7,75.79 354.59,78.89 355.48,80.76 356.02,81.38 356.38,81.69 356.73,81.79 357.27,81.9 357.8,81.94 358.16,82 358.52,82 359.05,82 359.95,82 361.73,82 363.52,82 365.3,82 374.23,82" fill="none" stroke="#888" stroke-width="0.6"/>
<circle cx="311.75" cy="17.83" r="2.7" fill="#b8972f" stroke="#111" stroke-width="0.8"/>
<circle cx="329.6" cy="24.04" r="2.7" fill="#b8972f" stroke="#111" stroke-width="0.8"/>
<circle cx="347.45" cy="54.05" r="2.7" fill="#b8972f" stroke="#111" stroke-width="0.8"/>
<circle cx="351.02" cy="65.85" r="2.7" fill="#b8972f" stroke="#111" stroke-width="0.8"/>
<circle cx="351.91" cy="69.99" r="2.7" fill="#b8972f" stroke="#111" stroke-width="0.8"/>
<circle cx="352.81" cy="72.06" r="2.7" fill="#b8972f" stroke="#111" stroke-width="0.8"/>
<circle cx="353.7" cy="75.79" r="2.7" fill="#b8972f" stroke="#111" stroke-width="0.8"/>
<circle cx="354.59" cy="78.89" r="2.7" fill="#b8972f" stroke="#111" stroke-width="0.8"/>
<circle cx="355.48" cy="80.76" r="2.7" fill="#b8972f" stroke="#111" stroke-width="0.8"/>
<circle cx="356.02" cy="81.38" r="2.7" fill="#b8972f" stroke="#111" stroke-width="0.8"/>
<circle cx="356.38" cy="81.69" r="2.7" fill="#b8972f" stroke="#111" stroke-width="0.8"/>
<circle cx="356.73" cy="81.79" r="2.7" fill="#b8972f" stroke="#111" stroke-width="0.8"/>
<circle cx="357.27" cy="81.9" r="2.7" fill="#b8972f" stroke="#111" stroke-width="0.8"/>
<circle cx="357.8" cy="81.94" r="2.7" fill="#b8972f" stroke="#111" stroke-width="0.8"/>
<circle cx="358.16" cy="82" r="2.7" fill="#b8972f" stroke="#111" stroke-width="0.8"/>
<circle cx="358.52" cy="82" r="2.7" fill="#b8972f" stroke="#111" stroke-width="0.8"/>
<circle cx="359.05" cy="82" r="2.7" fill="#b8972f" stroke="#111" stroke-width="0.8"/>
<circle cx="359.95" cy="82" r="2.7" fill="#b8972f" stroke="#111" stroke-width="0.8"/>
<circle cx="361.73" cy="82" r="2.7" fill="#b8972f" stroke="#111" stroke-width="0.8"/>
<circle cx="363.52" cy="82" r="2.7" fill="#b8972f" stroke="#111" stroke-width="0.8"/>
<circle cx="365.3" cy="82" r="2.7" fill="#b8972f" stroke="#111" stroke-width="0.8"/>
<circle cx="374.23" cy="82" r="2.7" fill="#b8972f" stroke="#111" stroke-width="0.8"/>
<rect x="308.3" y="14.8" width="70.1" height="70.15" fill="none" stroke="#000" stroke-width="1.5"/>
<line x1="329.6" y1="84.95" x2="329.6" y2="81.95" stroke="#000" stroke-width="0.7"/>
<line x1="329.6" y1="14.8" x2="329.6" y2="17.8" stroke="#000" stroke-width="0.7"/>
<text x="329.6" y="93.9" font-size="8.0" text-anchor="middle" fill="#2c2c2c" textLength="11.2" lengthAdjust="spacingAndGlyphs">140</text>
<line x1="365.3" y1="84.95" x2="365.3" y2="81.95" stroke="#000" stroke-width="0.7"/>
<line x1="365.3" y1="14.8" x2="365.3" y2="17.8" stroke="#000" stroke-width="0.7"/>
<text x="365.3" y="93.9" font-size="8.0" text-anchor="middle" fill="#2c2c2c" textLength="11.2" lengthAdjust="spacingAndGlyphs">160</text>
<line x1="308.3" y1="82" x2="311.3" y2="82" stroke="#000" stroke-width="0.7"/>
<line x1="378.4" y1="82" x2="375.4" y2="82" stroke="#000" stroke-width="0.7"/>
<text x="304.1" y="84.9" font-size="8.0" text-anchor="end" fill="#2c2c2c" textLength="3.8" lengthAdjust="spacingAndGlyphs">0</text>
<line x1="308.3" y1="61.3" x2="311.3" y2="61.3" stroke="#000" stroke-width="0.7"/>
<line x1="378.4" y1="61.3" x2="375.4" y2="61.3" stroke="#000" stroke-width="0.7"/>
<text x="304.1" y="64.2" font-size="8.0" text-anchor="end" fill="#2c2c2c" textLength="11.4" lengthAdjust="spacingAndGlyphs">100</text>
<line x1="308.3" y1="40.6" x2="311.3" y2="40.6" stroke="#000" stroke-width="0.7"/>
<line x1="378.4" y1="40.6" x2="375.4" y2="40.6" stroke="#000" stroke-width="0.7"/>
<text x="304.1" y="43.5" font-size="8.0" text-anchor="end" fill="#2c2c2c" textLength="11.4" lengthAdjust="spacingAndGlyphs">200</text>
<line x1="308.3" y1="19.9" x2="311.3" y2="19.9" stroke="#000" stroke-width="0.7"/>
<line x1="378.4" y1="19.9" x2="375.4" y2="19.9" stroke="#000" stroke-width="0.7"/>
<text x="304.1" y="22.8" font-size="8.0" text-anchor="end" fill="#2c2c2c" textLength="11.4" lengthAdjust="spacingAndGlyphs">300</text>
<text x="357.1" y="105.4" font-size="8.7" text-anchor="middle" fill="#2c2c2c" textLength="41.6" lengthAdjust="spacingAndGlyphs">Temp. (K)</text>
<text x="287.2" y="33.6" font-size="8.6" text-anchor="middle" fill="#2c2c2c" transform="rotate(-90 287.2 33.6)" textLength="35.8" lengthAdjust="spacingAndGlyphs">Intensity</text>
<clipPath id="cc"><rect x="420.6" y="10.1" width="256.1" height="149.3"/></clipPath>
<g clip-path="url(#cc)">
<line x1="550.5" y1="10.1" x2="550.5" y2="159.4" stroke="#eba195" stroke-width="1.2"/>
<rect x="418.32" y="127.54" width="4.6" height="4.6" fill="#bc2c3a"/>
<rect x="420.18" y="122.41" width="4.6" height="4.6" fill="#bc2c3a"/>
<rect x="421.39" y="119.66" width="4.6" height="4.6" fill="#bc2c3a"/>
<rect x="422.8" y="131.1" width="4.6" height="4.6" fill="#bc2c3a"/>
<rect x="424.5" y="130.04" width="4.6" height="4.6" fill="#bc2c3a"/>
<rect x="425.82" y="139.99" width="4.6" height="4.6" fill="#bc2c3a"/>
<rect x="428" y="145.16" width="4.6" height="4.6" fill="#bc2c3a"/>
<rect x="429.21" y="137.77" width="4.6" height="4.6" fill="#bc2c3a"/>
<rect x="431.06" y="137.97" width="4.6" height="4.6" fill="#bc2c3a"/>
<rect x="432.76" y="136.56" width="4.6" height="4.6" fill="#bc2c3a"/>
<rect x="434.96" y="141.33" width="4.6" height="4.6" fill="#bc2c3a"/>
<rect x="437.06" y="151.65" width="4.6" height="4.6" fill="#bc2c3a"/>
<rect x="439.33" y="137.3" width="4.6" height="4.6" fill="#bc2c3a"/>
<rect x="440.72" y="141.32" width="4.6" height="4.6" fill="#bc2c3a"/>
<rect x="442.38" y="143.29" width="4.6" height="4.6" fill="#bc2c3a"/>
<rect x="443.98" y="143.67" width="4.6" height="4.6" fill="#bc2c3a"/>
<rect x="445.82" y="151.43" width="4.6" height="4.6" fill="#bc2c3a"/>
<rect x="448.08" y="147.24" width="4.6" height="4.6" fill="#bc2c3a"/>
<rect x="450.41" y="142.11" width="4.6" height="4.6" fill="#bc2c3a"/>
<rect x="452.71" y="143.14" width="4.6" height="4.6" fill="#bc2c3a"/>
<rect x="454.53" y="140.67" width="4.6" height="4.6" fill="#bc2c3a"/>
<rect x="456.36" y="143.38" width="4.6" height="4.6" fill="#bc2c3a"/>
<rect x="457.57" y="128.46" width="4.6" height="4.6" fill="#bc2c3a"/>
<rect x="459.67" y="152.81" width="4.6" height="4.6" fill="#bc2c3a"/>
<rect x="460.98" y="141.13" width="4.6" height="4.6" fill="#bc2c3a"/>
<rect x="462.16" y="128.46" width="4.6" height="4.6" fill="#bc2c3a"/>
<rect x="463.35" y="138.85" width="4.6" height="4.6" fill="#bc2c3a"/>
<rect x="465.67" y="142.4" width="4.6" height="4.6" fill="#bc2c3a"/>
<rect x="468.01" y="137.53" width="4.6" height="4.6" fill="#bc2c3a"/>
<rect x="469.18" y="134.21" width="4.6" height="4.6" fill="#bc2c3a"/>
<rect x="470.8" y="131.58" width="4.6" height="4.6" fill="#bc2c3a"/>
<rect x="473.1" y="137.35" width="4.6" height="4.6" fill="#bc2c3a"/>
<rect x="474.69" y="141.49" width="4.6" height="4.6" fill="#bc2c3a"/>
<rect x="476.54" y="132.23" width="4.6" height="4.6" fill="#bc2c3a"/>
<rect x="478.42" y="126.84" width="4.6" height="4.6" fill="#bc2c3a"/>
<rect x="480.43" y="135.17" width="4.6" height="4.6" fill="#bc2c3a"/>
<rect x="481.92" y="125.08" width="4.6" height="4.6" fill="#bc2c3a"/>
<rect x="483.07" y="132.71" width="4.6" height="4.6" fill="#bc2c3a"/>
<rect x="484.9" y="122.94" width="4.6" height="4.6" fill="#bc2c3a"/>
<rect x="486.1" y="129.3" width="4.6" height="4.6" fill="#bc2c3a"/>
<rect x="487.8" y="131.74" width="4.6" height="4.6" fill="#bc2c3a"/>
<rect x="489.83" y="143.63" width="4.6" height="4.6" fill="#bc2c3a"/>
<rect x="490.98" y="133.27" width="4.6" height="4.6" fill="#bc2c3a"/>
<rect x="492.84" y="122.26" width="4.6" height="4.6" fill="#bc2c3a"/>
<rect x="494.19" y="125.49" width="4.6" height="4.6" fill="#bc2c3a"/>
<rect x="496.28" y="132.97" width="4.6" height="4.6" fill="#bc2c3a"/>
<rect x="498.4" y="117.26" width="4.6" height="4.6" fill="#bc2c3a"/>
<rect x="500.14" y="123.78" width="4.6" height="4.6" fill="#bc2c3a"/>
<rect x="501.59" y="124.44" width="4.6" height="4.6" fill="#bc2c3a"/>
<rect x="502.84" y="114.75" width="4.6" height="4.6" fill="#bc2c3a"/>
<rect x="505.12" y="119.93" width="4.6" height="4.6" fill="#bc2c3a"/>
<rect x="507.42" y="119.37" width="4.6" height="4.6" fill="#bc2c3a"/>
<rect x="509.45" y="112.4" width="4.6" height="4.6" fill="#bc2c3a"/>
<rect x="511.54" y="111.51" width="4.6" height="4.6" fill="#bc2c3a"/>
<rect x="513.68" y="113.82" width="4.6" height="4.6" fill="#bc2c3a"/>
<rect x="515.82" y="106.42" width="4.6" height="4.6" fill="#bc2c3a"/>
<rect x="517.7" y="103.28" width="4.6" height="4.6" fill="#bc2c3a"/>
<rect x="519.86" y="98.48" width="4.6" height="4.6" fill="#bc2c3a"/>
<rect x="521.76" y="88.34" width="4.6" height="4.6" fill="#bc2c3a"/>
<rect x="522.9" y="86.16" width="4.6" height="4.6" fill="#bc2c3a"/>
<rect x="525.1" y="84.66" width="4.6" height="4.6" fill="#bc2c3a"/>
<rect x="527.35" y="87.2" width="4.6" height="4.6" fill="#bc2c3a"/>
<rect x="529.39" y="81.13" width="4.6" height="4.6" fill="#bc2c3a"/>
<rect x="530.87" y="87.62" width="4.6" height="4.6" fill="#bc2c3a"/>
<rect x="532.28" y="75.05" width="4.6" height="4.6" fill="#bc2c3a"/>
<rect x="534.39" y="84.91" width="4.6" height="4.6" fill="#bc2c3a"/>
<rect x="536.61" y="74.49" width="4.6" height="4.6" fill="#bc2c3a"/>
<rect x="537.95" y="72.09" width="4.6" height="4.6" fill="#bc2c3a"/>
<rect x="539.89" y="73.07" width="4.6" height="4.6" fill="#bc2c3a"/>
<rect x="541.76" y="66.45" width="4.6" height="4.6" fill="#bc2c3a"/>
<rect x="543.19" y="60.39" width="4.6" height="4.6" fill="#bc2c3a"/>
<rect x="544.75" y="64.79" width="4.6" height="4.6" fill="#bc2c3a"/>
<rect x="546.53" y="57.25" width="4.6" height="4.6" fill="#bc2c3a"/>
<rect x="548.78" y="55.47" width="4.6" height="4.6" fill="#bc2c3a"/>
<rect x="550.91" y="43.06" width="4.6" height="4.6" fill="#bc2c3a"/>
<rect x="552.1" y="46.85" width="4.6" height="4.6" fill="#bc2c3a"/>
<rect x="553.56" y="50.64" width="4.6" height="4.6" fill="#bc2c3a"/>
<rect x="555.63" y="55.19" width="4.6" height="4.6" fill="#bc2c3a"/>
<rect x="556.81" y="47.66" width="4.6" height="4.6" fill="#bc2c3a"/>
<rect x="558.54" y="41.99" width="4.6" height="4.6" fill="#bc2c3a"/>
<rect x="559.76" y="46.24" width="4.6" height="4.6" fill="#bc2c3a"/>
<rect x="561.21" y="39.73" width="4.6" height="4.6" fill="#bc2c3a"/>
<rect x="562.86" y="41.66" width="4.6" height="4.6" fill="#bc2c3a"/>
<rect x="564.95" y="40.88" width="4.6" height="4.6" fill="#bc2c3a"/>
<rect x="566.13" y="46.69" width="4.6" height="4.6" fill="#bc2c3a"/>
<rect x="568.04" y="32.89" width="4.6" height="4.6" fill="#bc2c3a"/>
<rect x="569.93" y="39.07" width="4.6" height="4.6" fill="#bc2c3a"/>
<rect x="571.57" y="50.58" width="4.6" height="4.6" fill="#bc2c3a"/>
<rect x="573.54" y="33.94" width="4.6" height="4.6" fill="#bc2c3a"/>
<rect x="575.74" y="35.2" width="4.6" height="4.6" fill="#bc2c3a"/>
<rect x="577.32" y="30.49" width="4.6" height="4.6" fill="#bc2c3a"/>
<rect x="579.02" y="40.38" width="4.6" height="4.6" fill="#bc2c3a"/>
<rect x="581.14" y="39.7" width="4.6" height="4.6" fill="#bc2c3a"/>
<rect x="583.08" y="41.87" width="4.6" height="4.6" fill="#bc2c3a"/>
<rect x="584.89" y="35.75" width="4.6" height="4.6" fill="#bc2c3a"/>
<rect x="586.49" y="29.92" width="4.6" height="4.6" fill="#bc2c3a"/>
<rect x="588.31" y="35.18" width="4.6" height="4.6" fill="#bc2c3a"/>
<rect x="589.85" y="36.09" width="4.6" height="4.6" fill="#bc2c3a"/>
<rect x="591.01" y="28.69" width="4.6" height="4.6" fill="#bc2c3a"/>
<rect x="592.49" y="28.79" width="4.6" height="4.6" fill="#bc2c3a"/>
<rect x="593.72" y="26.27" width="4.6" height="4.6" fill="#bc2c3a"/>
<rect x="595.14" y="31.58" width="4.6" height="4.6" fill="#bc2c3a"/>
<rect x="596.39" y="36.26" width="4.6" height="4.6" fill="#bc2c3a"/>
<rect x="597.74" y="32.91" width="4.6" height="4.6" fill="#bc2c3a"/>
<rect x="600.08" y="33.92" width="4.6" height="4.6" fill="#bc2c3a"/>
<rect x="602.36" y="34.72" width="4.6" height="4.6" fill="#bc2c3a"/>
<rect x="604.22" y="25.9" width="4.6" height="4.6" fill="#bc2c3a"/>
<rect x="605.8" y="32.93" width="4.6" height="4.6" fill="#bc2c3a"/>
<rect x="608.06" y="24.65" width="4.6" height="4.6" fill="#bc2c3a"/>
<rect x="609.88" y="40.03" width="4.6" height="4.6" fill="#bc2c3a"/>
<rect x="612.14" y="31.67" width="4.6" height="4.6" fill="#bc2c3a"/>
<rect x="614.34" y="32.91" width="4.6" height="4.6" fill="#bc2c3a"/>
<rect x="616.08" y="37.14" width="4.6" height="4.6" fill="#bc2c3a"/>
<rect x="617.92" y="29.84" width="4.6" height="4.6" fill="#bc2c3a"/>
<rect x="619.21" y="30.45" width="4.6" height="4.6" fill="#bc2c3a"/>
<rect x="621.48" y="32.81" width="4.6" height="4.6" fill="#bc2c3a"/>
<rect x="623.26" y="29.18" width="4.6" height="4.6" fill="#bc2c3a"/>
<rect x="625.12" y="36.54" width="4.6" height="4.6" fill="#bc2c3a"/>
<rect x="627.44" y="27.42" width="4.6" height="4.6" fill="#bc2c3a"/>
<rect x="629.55" y="32.5" width="4.6" height="4.6" fill="#bc2c3a"/>
<rect x="631.37" y="29.78" width="4.6" height="4.6" fill="#bc2c3a"/>
<rect x="633.01" y="25.26" width="4.6" height="4.6" fill="#bc2c3a"/>
<rect x="634.99" y="28.62" width="4.6" height="4.6" fill="#bc2c3a"/>
<rect x="636.91" y="34.67" width="4.6" height="4.6" fill="#bc2c3a"/>
<rect x="638.53" y="31.32" width="4.6" height="4.6" fill="#bc2c3a"/>
<rect x="639.94" y="40.99" width="4.6" height="4.6" fill="#bc2c3a"/>
<rect x="641.94" y="35.11" width="4.6" height="4.6" fill="#bc2c3a"/>
<rect x="643.36" y="39.86" width="4.6" height="4.6" fill="#bc2c3a"/>
<rect x="644.81" y="27.72" width="4.6" height="4.6" fill="#bc2c3a"/>
<rect x="647.03" y="24.17" width="4.6" height="4.6" fill="#bc2c3a"/>
<rect x="649.21" y="32.07" width="4.6" height="4.6" fill="#bc2c3a"/>
<rect x="650.44" y="26.23" width="4.6" height="4.6" fill="#bc2c3a"/>
<rect x="652.59" y="31.42" width="4.6" height="4.6" fill="#bc2c3a"/>
<rect x="654.54" y="19.45" width="4.6" height="4.6" fill="#bc2c3a"/>
<rect x="656.13" y="25.02" width="4.6" height="4.6" fill="#bc2c3a"/>
<rect x="657.85" y="27.56" width="4.6" height="4.6" fill="#bc2c3a"/>
<rect x="659.37" y="29.2" width="4.6" height="4.6" fill="#bc2c3a"/>
<rect x="661.03" y="31.62" width="4.6" height="4.6" fill="#bc2c3a"/>
<rect x="662.46" y="37.02" width="4.6" height="4.6" fill="#bc2c3a"/>
<rect x="664.04" y="31.66" width="4.6" height="4.6" fill="#bc2c3a"/>
<rect x="665.98" y="35.48" width="4.6" height="4.6" fill="#bc2c3a"/>
<rect x="667.24" y="39.53" width="4.6" height="4.6" fill="#bc2c3a"/>
<rect x="668.78" y="35.34" width="4.6" height="4.6" fill="#bc2c3a"/>
<rect x="670.52" y="32.7" width="4.6" height="4.6" fill="#bc2c3a"/>
<rect x="672.01" y="31.59" width="4.6" height="4.6" fill="#bc2c3a"/>
<rect x="674.03" y="37.59" width="4.6" height="4.6" fill="#bc2c3a"/>
<circle cx="420.62" cy="125.05" r="1.9" fill="#bccbe8" stroke="#000" stroke-width="1.15"/>
<circle cx="421.57" cy="134.17" r="1.9" fill="#bccbe8" stroke="#000" stroke-width="1.15"/>
<circle cx="422.58" cy="135.53" r="1.9" fill="#bccbe8" stroke="#000" stroke-width="1.15"/>
<circle cx="423.28" cy="137.39" r="1.9" fill="#bccbe8" stroke="#000" stroke-width="1.15"/>
<circle cx="424.39" cy="134.42" r="1.9" fill="#bccbe8" stroke="#000" stroke-width="1.15"/>
<circle cx="425.34" cy="137.06" r="1.9" fill="#bccbe8" stroke="#000" stroke-width="1.15"/>
<circle cx="426.17" cy="131.7" r="1.9" fill="#bccbe8" stroke="#000" stroke-width="1.15"/>
<circle cx="426.83" cy="133.22" r="1.9" fill="#bccbe8" stroke="#000" stroke-width="1.15"/>
<circle cx="427.58" cy="138.5" r="1.9" fill="#bccbe8" stroke="#000" stroke-width="1.15"/>
<circle cx="428.81" cy="143.28" r="1.9" fill="#bccbe8" stroke="#000" stroke-width="1.15"/>
<circle cx="429.93" cy="131.81" r="1.9" fill="#bccbe8" stroke="#000" stroke-width="1.15"/>
<circle cx="430.6" cy="135.37" r="1.9" fill="#bccbe8" stroke="#000" stroke-width="1.15"/>
<circle cx="431.64" cy="149.92" r="1.9" fill="#bccbe8" stroke="#000" stroke-width="1.15"/>
<circle cx="432.69" cy="144.18" r="1.9" fill="#bccbe8" stroke="#000" stroke-width="1.15"/>
<circle cx="433.72" cy="152.29" r="1.9" fill="#bccbe8" stroke="#000" stroke-width="1.15"/>
<circle cx="434.71" cy="130.17" r="1.9" fill="#bccbe8" stroke="#000" stroke-width="1.15"/>
<circle cx="435.83" cy="143.65" r="1.9" fill="#bccbe8" stroke="#000" stroke-width="1.15"/>
<circle cx="436.99" cy="141.57" r="1.9" fill="#bccbe8" stroke="#000" stroke-width="1.15"/>
<circle cx="437.76" cy="137.48" r="1.9" fill="#bccbe8" stroke="#000" stroke-width="1.15"/>
<circle cx="438.89" cy="146.02" r="1.9" fill="#bccbe8" stroke="#000" stroke-width="1.15"/>
<circle cx="440.09" cy="143.61" r="1.9" fill="#bccbe8" stroke="#000" stroke-width="1.15"/>
<circle cx="441.14" cy="135.38" r="1.9" fill="#bccbe8" stroke="#000" stroke-width="1.15"/>
<circle cx="442.17" cy="138.09" r="1.9" fill="#bccbe8" stroke="#000" stroke-width="1.15"/>
<circle cx="442.81" cy="141.08" r="1.9" fill="#bccbe8" stroke="#000" stroke-width="1.15"/>
<circle cx="443.54" cy="138.29" r="1.9" fill="#bccbe8" stroke="#000" stroke-width="1.15"/>
<circle cx="444.64" cy="135.24" r="1.9" fill="#bccbe8" stroke="#000" stroke-width="1.15"/>
<circle cx="445.77" cy="130.34" r="1.9" fill="#bccbe8" stroke="#000" stroke-width="1.15"/>
<circle cx="446.54" cy="148.49" r="1.9" fill="#bccbe8" stroke="#000" stroke-width="1.15"/>
<circle cx="447.21" cy="144.94" r="1.9" fill="#bccbe8" stroke="#000" stroke-width="1.15"/>
<circle cx="447.79" cy="142.23" r="1.9" fill="#bccbe8" stroke="#000" stroke-width="1.15"/>
<circle cx="448.7" cy="143.98" r="1.9" fill="#bccbe8" stroke="#000" stroke-width="1.15"/>
<circle cx="449.5" cy="143.04" r="1.9" fill="#bccbe8" stroke="#000" stroke-width="1.15"/>
<circle cx="450.54" cy="133.85" r="1.9" fill="#bccbe8" stroke="#000" stroke-width="1.15"/>
<circle cx="451.13" cy="137.88" r="1.9" fill="#bccbe8" stroke="#000" stroke-width="1.15"/>
<circle cx="452.39" cy="139.05" r="1.9" fill="#bccbe8" stroke="#000" stroke-width="1.15"/>
<circle cx="453.09" cy="142.73" r="1.9" fill="#bccbe8" stroke="#000" stroke-width="1.15"/>
<circle cx="453.81" cy="146.48" r="1.9" fill="#bccbe8" stroke="#000" stroke-width="1.15"/>
<circle cx="454.96" cy="133.45" r="1.9" fill="#bccbe8" stroke="#000" stroke-width="1.15"/>
<circle cx="455.8" cy="144.28" r="1.9" fill="#bccbe8" stroke="#000" stroke-width="1.15"/>
<circle cx="456.51" cy="141.76" r="1.9" fill="#bccbe8" stroke="#000" stroke-width="1.15"/>
<circle cx="457.09" cy="150.21" r="1.9" fill="#bccbe8" stroke="#000" stroke-width="1.15"/>
<circle cx="457.97" cy="130.9" r="1.9" fill="#bccbe8" stroke="#000" stroke-width="1.15"/>
<circle cx="458.79" cy="149.06" r="1.9" fill="#bccbe8" stroke="#000" stroke-width="1.15"/>
<circle cx="459.36" cy="143" r="1.9" fill="#bccbe8" stroke="#000" stroke-width="1.15"/>
<circle cx="460.46" cy="137.58" r="1.9" fill="#bccbe8" stroke="#000" stroke-width="1.15"/>
<circle cx="461.17" cy="136.39" r="1.9" fill="#bccbe8" stroke="#000" stroke-width="1.15"/>
<circle cx="462.02" cy="140.37" r="1.9" fill="#bccbe8" stroke="#000" stroke-width="1.15"/>
<circle cx="462.7" cy="139.7" r="1.9" fill="#bccbe8" stroke="#000" stroke-width="1.15"/>
<circle cx="463.31" cy="134.72" r="1.9" fill="#bccbe8" stroke="#000" stroke-width="1.15"/>
<circle cx="464.36" cy="139.59" r="1.9" fill="#bccbe8" stroke="#000" stroke-width="1.15"/>
<circle cx="465.21" cy="141.25" r="1.9" fill="#bccbe8" stroke="#000" stroke-width="1.15"/>
<circle cx="465.92" cy="139.27" r="1.9" fill="#bccbe8" stroke="#000" stroke-width="1.15"/>
<circle cx="466.82" cy="135.89" r="1.9" fill="#bccbe8" stroke="#000" stroke-width="1.15"/>
<circle cx="467.47" cy="133.03" r="1.9" fill="#bccbe8" stroke="#000" stroke-width="1.15"/>
<circle cx="468.54" cy="140.94" r="1.9" fill="#bccbe8" stroke="#000" stroke-width="1.15"/>
<circle cx="469.75" cy="129.48" r="1.9" fill="#bccbe8" stroke="#000" stroke-width="1.15"/>
<circle cx="470.49" cy="139.94" r="1.9" fill="#bccbe8" stroke="#000" stroke-width="1.15"/>
<circle cx="471.29" cy="128.62" r="1.9" fill="#bccbe8" stroke="#000" stroke-width="1.15"/>
<circle cx="472.33" cy="141.94" r="1.9" fill="#bccbe8" stroke="#000" stroke-width="1.15"/>
<circle cx="472.91" cy="139.74" r="1.9" fill="#bccbe8" stroke="#000" stroke-width="1.15"/>
<circle cx="473.81" cy="135.54" r="1.9" fill="#bccbe8" stroke="#000" stroke-width="1.15"/>
<circle cx="475" cy="131.47" r="1.9" fill="#bccbe8" stroke="#000" stroke-width="1.15"/>
<circle cx="475.8" cy="142.43" r="1.9" fill="#bccbe8" stroke="#000" stroke-width="1.15"/>
<circle cx="476.63" cy="136.35" r="1.9" fill="#bccbe8" stroke="#000" stroke-width="1.15"/>
<circle cx="477.63" cy="147.27" r="1.9" fill="#bccbe8" stroke="#000" stroke-width="1.15"/>
<circle cx="478.48" cy="128.12" r="1.9" fill="#bccbe8" stroke="#000" stroke-width="1.15"/>
<circle cx="479.43" cy="145.43" r="1.9" fill="#bccbe8" stroke="#000" stroke-width="1.15"/>
<circle cx="480.57" cy="137.86" r="1.9" fill="#bccbe8" stroke="#000" stroke-width="1.15"/>
<circle cx="481.41" cy="130.56" r="1.9" fill="#bccbe8" stroke="#000" stroke-width="1.15"/>
<circle cx="482.53" cy="137" r="1.9" fill="#bccbe8" stroke="#000" stroke-width="1.15"/>
<circle cx="483.4" cy="136.19" r="1.9" fill="#bccbe8" stroke="#000" stroke-width="1.15"/>
<circle cx="484.32" cy="139.26" r="1.9" fill="#bccbe8" stroke="#000" stroke-width="1.15"/>
<circle cx="485.52" cy="138.4" r="1.9" fill="#bccbe8" stroke="#000" stroke-width="1.15"/>
<circle cx="486.2" cy="146.52" r="1.9" fill="#bccbe8" stroke="#000" stroke-width="1.15"/>
<circle cx="487.34" cy="126.08" r="1.9" fill="#bccbe8" stroke="#000" stroke-width="1.15"/>
<circle cx="488.13" cy="128.13" r="1.9" fill="#bccbe8" stroke="#000" stroke-width="1.15"/>
<circle cx="489.25" cy="125.01" r="1.9" fill="#bccbe8" stroke="#000" stroke-width="1.15"/>
<circle cx="490.14" cy="129.03" r="1.9" fill="#bccbe8" stroke="#000" stroke-width="1.15"/>
<circle cx="491.15" cy="130.8" r="1.9" fill="#bccbe8" stroke="#000" stroke-width="1.15"/>
<circle cx="492.26" cy="130.52" r="1.9" fill="#bccbe8" stroke="#000" stroke-width="1.15"/>
<circle cx="493.06" cy="132.36" r="1.9" fill="#bccbe8" stroke="#000" stroke-width="1.15"/>
<circle cx="493.77" cy="124.08" r="1.9" fill="#bccbe8" stroke="#000" stroke-width="1.15"/>
<circle cx="495.01" cy="126.51" r="1.9" fill="#bccbe8" stroke="#000" stroke-width="1.15"/>
<circle cx="495.66" cy="129.74" r="1.9" fill="#bccbe8" stroke="#000" stroke-width="1.15"/>
<circle cx="496.37" cy="124.79" r="1.9" fill="#bccbe8" stroke="#000" stroke-width="1.15"/>
<circle cx="497.56" cy="132.38" r="1.9" fill="#bccbe8" stroke="#000" stroke-width="1.15"/>
<circle cx="498.74" cy="125.88" r="1.9" fill="#bccbe8" stroke="#000" stroke-width="1.15"/>
<circle cx="499.33" cy="132.05" r="1.9" fill="#bccbe8" stroke="#000" stroke-width="1.15"/>
<circle cx="500.31" cy="124.7" r="1.9" fill="#bccbe8" stroke="#000" stroke-width="1.15"/>
<circle cx="501.05" cy="127.48" r="1.9" fill="#bccbe8" stroke="#000" stroke-width="1.15"/>
<circle cx="501.9" cy="121.89" r="1.9" fill="#bccbe8" stroke="#000" stroke-width="1.15"/>
<circle cx="502.8" cy="131.21" r="1.9" fill="#bccbe8" stroke="#000" stroke-width="1.15"/>
<circle cx="503.85" cy="129.67" r="1.9" fill="#bccbe8" stroke="#000" stroke-width="1.15"/>
<circle cx="504.62" cy="119.01" r="1.9" fill="#bccbe8" stroke="#000" stroke-width="1.15"/>
<circle cx="505.49" cy="113.16" r="1.9" fill="#bccbe8" stroke="#000" stroke-width="1.15"/>
<circle cx="506.11" cy="120.24" r="1.9" fill="#bccbe8" stroke="#000" stroke-width="1.15"/>
<circle cx="507.01" cy="115.59" r="1.9" fill="#bccbe8" stroke="#000" stroke-width="1.15"/>
<circle cx="507.87" cy="117.78" r="1.9" fill="#bccbe8" stroke="#000" stroke-width="1.15"/>
<circle cx="508.85" cy="118.66" r="1.9" fill="#bccbe8" stroke="#000" stroke-width="1.15"/>
<circle cx="509.65" cy="114.59" r="1.9" fill="#bccbe8" stroke="#000" stroke-width="1.15"/>
<circle cx="510.27" cy="117.75" r="1.9" fill="#bccbe8" stroke="#000" stroke-width="1.15"/>
<circle cx="511.34" cy="113.62" r="1.9" fill="#bccbe8" stroke="#000" stroke-width="1.15"/>
<circle cx="512.59" cy="122.99" r="1.9" fill="#bccbe8" stroke="#000" stroke-width="1.15"/>
<circle cx="513.45" cy="120.23" r="1.9" fill="#bccbe8" stroke="#000" stroke-width="1.15"/>
<circle cx="514.64" cy="105.48" r="1.9" fill="#bccbe8" stroke="#000" stroke-width="1.15"/>
<circle cx="515.49" cy="111.14" r="1.9" fill="#bccbe8" stroke="#000" stroke-width="1.15"/>
<circle cx="516.69" cy="110.3" r="1.9" fill="#bccbe8" stroke="#000" stroke-width="1.15"/>
<circle cx="517.32" cy="95.2" r="1.9" fill="#bccbe8" stroke="#000" stroke-width="1.15"/>
<circle cx="518.09" cy="111.86" r="1.9" fill="#bccbe8" stroke="#000" stroke-width="1.15"/>
<circle cx="519.17" cy="103.97" r="1.9" fill="#bccbe8" stroke="#000" stroke-width="1.15"/>
<circle cx="520.04" cy="106.28" r="1.9" fill="#bccbe8" stroke="#000" stroke-width="1.15"/>
<circle cx="520.8" cy="93.87" r="1.9" fill="#bccbe8" stroke="#000" stroke-width="1.15"/>
<circle cx="521.57" cy="101" r="1.9" fill="#bccbe8" stroke="#000" stroke-width="1.15"/>
<circle cx="522.67" cy="96.56" r="1.9" fill="#bccbe8" stroke="#000" stroke-width="1.15"/>
<circle cx="523.91" cy="85.71" r="1.9" fill="#bccbe8" stroke="#000" stroke-width="1.15"/>
<circle cx="524.59" cy="95.85" r="1.9" fill="#bccbe8" stroke="#000" stroke-width="1.15"/>
<circle cx="525.48" cy="99.56" r="1.9" fill="#bccbe8" stroke="#000" stroke-width="1.15"/>
<circle cx="526.63" cy="93.29" r="1.9" fill="#bccbe8" stroke="#000" stroke-width="1.15"/>
<circle cx="527.52" cy="84.63" r="1.9" fill="#bccbe8" stroke="#000" stroke-width="1.15"/>
<circle cx="528.25" cy="96.4" r="1.9" fill="#bccbe8" stroke="#000" stroke-width="1.15"/>
<circle cx="528.82" cy="85.91" r="1.9" fill="#bccbe8" stroke="#000" stroke-width="1.15"/>
<circle cx="529.5" cy="84.85" r="1.9" fill="#bccbe8" stroke="#000" stroke-width="1.15"/>
<circle cx="530.21" cy="87.85" r="1.9" fill="#bccbe8" stroke="#000" stroke-width="1.15"/>
<circle cx="531.32" cy="92.66" r="1.9" fill="#bccbe8" stroke="#000" stroke-width="1.15"/>
<circle cx="531.91" cy="86.05" r="1.9" fill="#bccbe8" stroke="#000" stroke-width="1.15"/>
<circle cx="532.71" cy="84.48" r="1.9" fill="#bccbe8" stroke="#000" stroke-width="1.15"/>
<circle cx="533.65" cy="80.33" r="1.9" fill="#bccbe8" stroke="#000" stroke-width="1.15"/>
<circle cx="534.77" cy="79.88" r="1.9" fill="#bccbe8" stroke="#000" stroke-width="1.15"/>
<circle cx="535.52" cy="76.16" r="1.9" fill="#bccbe8" stroke="#000" stroke-width="1.15"/>
<circle cx="536.55" cy="78.25" r="1.9" fill="#bccbe8" stroke="#000" stroke-width="1.15"/>
<circle cx="537.68" cy="78" r="1.9" fill="#bccbe8" stroke="#000" stroke-width="1.15"/>
<circle cx="538.79" cy="73.72" r="1.9" fill="#bccbe8" stroke="#000" stroke-width="1.15"/>
<circle cx="539.93" cy="78.33" r="1.9" fill="#bccbe8" stroke="#000" stroke-width="1.15"/>
<circle cx="540.51" cy="74.93" r="1.9" fill="#bccbe8" stroke="#000" stroke-width="1.15"/>
<circle cx="541.7" cy="67.22" r="1.9" fill="#bccbe8" stroke="#000" stroke-width="1.15"/>
<circle cx="542.91" cy="72.94" r="1.9" fill="#bccbe8" stroke="#000" stroke-width="1.15"/>
<circle cx="543.89" cy="73.42" r="1.9" fill="#bccbe8" stroke="#000" stroke-width="1.15"/>
<circle cx="544.58" cy="64.21" r="1.9" fill="#bccbe8" stroke="#000" stroke-width="1.15"/>
<circle cx="545.84" cy="70.08" r="1.9" fill="#bccbe8" stroke="#000" stroke-width="1.15"/>
<circle cx="546.72" cy="65.37" r="1.9" fill="#bccbe8" stroke="#000" stroke-width="1.15"/>
<circle cx="547.6" cy="59.79" r="1.9" fill="#bccbe8" stroke="#000" stroke-width="1.15"/>
<circle cx="548.52" cy="61.81" r="1.9" fill="#bccbe8" stroke="#000" stroke-width="1.15"/>
<circle cx="549.68" cy="53.51" r="1.9" fill="#bccbe8" stroke="#000" stroke-width="1.15"/>
<circle cx="550.26" cy="67.4" r="1.9" fill="#bccbe8" stroke="#000" stroke-width="1.15"/>
<circle cx="551.21" cy="59.02" r="1.9" fill="#bccbe8" stroke="#000" stroke-width="1.15"/>
<circle cx="552.41" cy="52.35" r="1.9" fill="#bccbe8" stroke="#000" stroke-width="1.15"/>
<circle cx="553.44" cy="55.04" r="1.9" fill="#bccbe8" stroke="#000" stroke-width="1.15"/>
<circle cx="554.67" cy="45.01" r="1.9" fill="#bccbe8" stroke="#000" stroke-width="1.15"/>
<circle cx="555.37" cy="46.12" r="1.9" fill="#bccbe8" stroke="#000" stroke-width="1.15"/>
<circle cx="556.51" cy="49.62" r="1.9" fill="#bccbe8" stroke="#000" stroke-width="1.15"/>
<circle cx="557.26" cy="36.5" r="1.9" fill="#bccbe8" stroke="#000" stroke-width="1.15"/>
<circle cx="558.1" cy="50.8" r="1.9" fill="#bccbe8" stroke="#000" stroke-width="1.15"/>
<circle cx="558.76" cy="46.78" r="1.9" fill="#bccbe8" stroke="#000" stroke-width="1.15"/>
<circle cx="559.48" cy="32.6" r="1.9" fill="#bccbe8" stroke="#000" stroke-width="1.15"/>
<circle cx="560.1" cy="53" r="1.9" fill="#bccbe8" stroke="#000" stroke-width="1.15"/>
<circle cx="561.1" cy="46.85" r="1.9" fill="#bccbe8" stroke="#000" stroke-width="1.15"/>
<circle cx="561.67" cy="47.67" r="1.9" fill="#bccbe8" stroke="#000" stroke-width="1.15"/>
<circle cx="562.42" cy="34.58" r="1.9" fill="#bccbe8" stroke="#000" stroke-width="1.15"/>
<circle cx="563.17" cy="46.21" r="1.9" fill="#bccbe8" stroke="#000" stroke-width="1.15"/>
<circle cx="564.4" cy="44.86" r="1.9" fill="#bccbe8" stroke="#000" stroke-width="1.15"/>
<circle cx="565.6" cy="38.19" r="1.9" fill="#bccbe8" stroke="#000" stroke-width="1.15"/>
<circle cx="566.61" cy="31.64" r="1.9" fill="#bccbe8" stroke="#000" stroke-width="1.15"/>
<circle cx="567.21" cy="43.29" r="1.9" fill="#bccbe8" stroke="#000" stroke-width="1.15"/>
<circle cx="568.35" cy="45.68" r="1.9" fill="#bccbe8" stroke="#000" stroke-width="1.15"/>
<circle cx="568.95" cy="37.7" r="1.9" fill="#bccbe8" stroke="#000" stroke-width="1.15"/>
<circle cx="569.59" cy="43.86" r="1.9" fill="#bccbe8" stroke="#000" stroke-width="1.15"/>
<circle cx="570.84" cy="42.55" r="1.9" fill="#bccbe8" stroke="#000" stroke-width="1.15"/>
<circle cx="571.49" cy="39.66" r="1.9" fill="#bccbe8" stroke="#000" stroke-width="1.15"/>
<circle cx="572.69" cy="38.97" r="1.9" fill="#bccbe8" stroke="#000" stroke-width="1.15"/>
<circle cx="573.95" cy="39.68" r="1.9" fill="#bccbe8" stroke="#000" stroke-width="1.15"/>
<circle cx="574.68" cy="47.08" r="1.9" fill="#bccbe8" stroke="#000" stroke-width="1.15"/>
<circle cx="575.74" cy="32.03" r="1.9" fill="#bccbe8" stroke="#000" stroke-width="1.15"/>
<circle cx="576.31" cy="44.09" r="1.9" fill="#bccbe8" stroke="#000" stroke-width="1.15"/>
<circle cx="577.27" cy="33.9" r="1.9" fill="#bccbe8" stroke="#000" stroke-width="1.15"/>
<circle cx="578.21" cy="44.3" r="1.9" fill="#bccbe8" stroke="#000" stroke-width="1.15"/>
<circle cx="578.92" cy="37.23" r="1.9" fill="#bccbe8" stroke="#000" stroke-width="1.15"/>
<circle cx="580.13" cy="37.08" r="1.9" fill="#bccbe8" stroke="#000" stroke-width="1.15"/>
<circle cx="581.28" cy="40.36" r="1.9" fill="#bccbe8" stroke="#000" stroke-width="1.15"/>
<circle cx="582.03" cy="37.47" r="1.9" fill="#bccbe8" stroke="#000" stroke-width="1.15"/>
<circle cx="582.88" cy="36.21" r="1.9" fill="#bccbe8" stroke="#000" stroke-width="1.15"/>
<circle cx="583.52" cy="28.74" r="1.9" fill="#bccbe8" stroke="#000" stroke-width="1.15"/>
<circle cx="584.77" cy="36.07" r="1.9" fill="#bccbe8" stroke="#000" stroke-width="1.15"/>
<circle cx="585.7" cy="36.27" r="1.9" fill="#bccbe8" stroke="#000" stroke-width="1.15"/>
<circle cx="586.57" cy="37.99" r="1.9" fill="#bccbe8" stroke="#000" stroke-width="1.15"/>
<circle cx="587.56" cy="38.16" r="1.9" fill="#bccbe8" stroke="#000" stroke-width="1.15"/>
<circle cx="588.34" cy="31.2" r="1.9" fill="#bccbe8" stroke="#000" stroke-width="1.15"/>
<circle cx="589.32" cy="25.61" r="1.9" fill="#bccbe8" stroke="#000" stroke-width="1.15"/>
<circle cx="590.47" cy="36.5" r="1.9" fill="#bccbe8" stroke="#000" stroke-width="1.15"/>
<circle cx="591.71" cy="35.27" r="1.9" fill="#bccbe8" stroke="#000" stroke-width="1.15"/>
<circle cx="592.78" cy="32.6" r="1.9" fill="#bccbe8" stroke="#000" stroke-width="1.15"/>
<circle cx="593.8" cy="36.79" r="1.9" fill="#bccbe8" stroke="#000" stroke-width="1.15"/>
<circle cx="594.69" cy="23.45" r="1.9" fill="#bccbe8" stroke="#000" stroke-width="1.15"/>
<circle cx="595.87" cy="28.89" r="1.9" fill="#bccbe8" stroke="#000" stroke-width="1.15"/>
<circle cx="596.86" cy="34.32" r="1.9" fill="#bccbe8" stroke="#000" stroke-width="1.15"/>
<circle cx="597.72" cy="29.44" r="1.9" fill="#bccbe8" stroke="#000" stroke-width="1.15"/>
<circle cx="598.88" cy="39.52" r="1.9" fill="#bccbe8" stroke="#000" stroke-width="1.15"/>
<circle cx="600.12" cy="35.42" r="1.9" fill="#bccbe8" stroke="#000" stroke-width="1.15"/>
<circle cx="601.3" cy="31.2" r="1.9" fill="#bccbe8" stroke="#000" stroke-width="1.15"/>
<circle cx="602.47" cy="34.33" r="1.9" fill="#bccbe8" stroke="#000" stroke-width="1.15"/>
<circle cx="603.39" cy="37.25" r="1.9" fill="#bccbe8" stroke="#000" stroke-width="1.15"/>
<circle cx="604.21" cy="38.34" r="1.9" fill="#bccbe8" stroke="#000" stroke-width="1.15"/>
<circle cx="604.88" cy="40.37" r="1.9" fill="#bccbe8" stroke="#000" stroke-width="1.15"/>
<circle cx="605.7" cy="35.02" r="1.9" fill="#bccbe8" stroke="#000" stroke-width="1.15"/>
<circle cx="606.48" cy="34.78" r="1.9" fill="#bccbe8" stroke="#000" stroke-width="1.15"/>
<circle cx="607.07" cy="42.54" r="1.9" fill="#bccbe8" stroke="#000" stroke-width="1.15"/>
<circle cx="608.15" cy="35.51" r="1.9" fill="#bccbe8" stroke="#000" stroke-width="1.15"/>
<circle cx="609.29" cy="29.23" r="1.9" fill="#bccbe8" stroke="#000" stroke-width="1.15"/>
<circle cx="609.94" cy="35.52" r="1.9" fill="#bccbe8" stroke="#000" stroke-width="1.15"/>
<circle cx="610.77" cy="41.96" r="1.9" fill="#bccbe8" stroke="#000" stroke-width="1.15"/>
<circle cx="611.47" cy="31.71" r="1.9" fill="#bccbe8" stroke="#000" stroke-width="1.15"/>
<circle cx="612.45" cy="32.18" r="1.9" fill="#bccbe8" stroke="#000" stroke-width="1.15"/>
<circle cx="613.02" cy="32.52" r="1.9" fill="#bccbe8" stroke="#000" stroke-width="1.15"/>
<circle cx="613.71" cy="33.66" r="1.9" fill="#bccbe8" stroke="#000" stroke-width="1.15"/>
<circle cx="614.57" cy="28.81" r="1.9" fill="#bccbe8" stroke="#000" stroke-width="1.15"/>
<circle cx="615.6" cy="34.73" r="1.9" fill="#bccbe8" stroke="#000" stroke-width="1.15"/>
<circle cx="616.64" cy="32.18" r="1.9" fill="#bccbe8" stroke="#000" stroke-width="1.15"/>
<circle cx="617.51" cy="32.61" r="1.9" fill="#bccbe8" stroke="#000" stroke-width="1.15"/>
<circle cx="618.08" cy="46.08" r="1.9" fill="#bccbe8" stroke="#000" stroke-width="1.15"/>
<circle cx="618.94" cy="26.58" r="1.9" fill="#bccbe8" stroke="#000" stroke-width="1.15"/>
<circle cx="619.8" cy="37.74" r="1.9" fill="#bccbe8" stroke="#000" stroke-width="1.15"/>
<circle cx="620.98" cy="31.53" r="1.9" fill="#bccbe8" stroke="#000" stroke-width="1.15"/>
<circle cx="621.99" cy="38.77" r="1.9" fill="#bccbe8" stroke="#000" stroke-width="1.15"/>
<circle cx="622.61" cy="32.21" r="1.9" fill="#bccbe8" stroke="#000" stroke-width="1.15"/>
<circle cx="623.55" cy="27.96" r="1.9" fill="#bccbe8" stroke="#000" stroke-width="1.15"/>
<circle cx="624.8" cy="35.44" r="1.9" fill="#bccbe8" stroke="#000" stroke-width="1.15"/>
<circle cx="625.57" cy="37.09" r="1.9" fill="#bccbe8" stroke="#000" stroke-width="1.15"/>
<circle cx="626.22" cy="38.44" r="1.9" fill="#bccbe8" stroke="#000" stroke-width="1.15"/>
<circle cx="627.32" cy="33.77" r="1.9" fill="#bccbe8" stroke="#000" stroke-width="1.15"/>
<circle cx="628.48" cy="32.78" r="1.9" fill="#bccbe8" stroke="#000" stroke-width="1.15"/>
<circle cx="629.35" cy="35.41" r="1.9" fill="#bccbe8" stroke="#000" stroke-width="1.15"/>
<circle cx="630.05" cy="30.46" r="1.9" fill="#bccbe8" stroke="#000" stroke-width="1.15"/>
<circle cx="631.26" cy="34.63" r="1.9" fill="#bccbe8" stroke="#000" stroke-width="1.15"/>
<circle cx="632.46" cy="34.79" r="1.9" fill="#bccbe8" stroke="#000" stroke-width="1.15"/>
<circle cx="633.05" cy="30.66" r="1.9" fill="#bccbe8" stroke="#000" stroke-width="1.15"/>
<circle cx="633.89" cy="27.62" r="1.9" fill="#bccbe8" stroke="#000" stroke-width="1.15"/>
<circle cx="634.73" cy="38.91" r="1.9" fill="#bccbe8" stroke="#000" stroke-width="1.15"/>
<circle cx="635.42" cy="32.45" r="1.9" fill="#bccbe8" stroke="#000" stroke-width="1.15"/>
<circle cx="636.22" cy="29.12" r="1.9" fill="#bccbe8" stroke="#000" stroke-width="1.15"/>
<circle cx="636.93" cy="37.59" r="1.9" fill="#bccbe8" stroke="#000" stroke-width="1.15"/>
<circle cx="637.99" cy="30.52" r="1.9" fill="#bccbe8" stroke="#000" stroke-width="1.15"/>
<circle cx="639.02" cy="34.53" r="1.9" fill="#bccbe8" stroke="#000" stroke-width="1.15"/>
<circle cx="639.85" cy="34.17" r="1.9" fill="#bccbe8" stroke="#000" stroke-width="1.15"/>
<circle cx="640.83" cy="35.7" r="1.9" fill="#bccbe8" stroke="#000" stroke-width="1.15"/>
<circle cx="641.95" cy="35.84" r="1.9" fill="#bccbe8" stroke="#000" stroke-width="1.15"/>
<circle cx="642.85" cy="35.49" r="1.9" fill="#bccbe8" stroke="#000" stroke-width="1.15"/>
<circle cx="643.89" cy="34.15" r="1.9" fill="#bccbe8" stroke="#000" stroke-width="1.15"/>
<circle cx="645.02" cy="28.65" r="1.9" fill="#bccbe8" stroke="#000" stroke-width="1.15"/>
<circle cx="645.92" cy="32.91" r="1.9" fill="#bccbe8" stroke="#000" stroke-width="1.15"/>
<circle cx="646.99" cy="36.25" r="1.9" fill="#bccbe8" stroke="#000" stroke-width="1.15"/>
<circle cx="647.63" cy="26.72" r="1.9" fill="#bccbe8" stroke="#000" stroke-width="1.15"/>
<circle cx="648.78" cy="37.86" r="1.9" fill="#bccbe8" stroke="#000" stroke-width="1.15"/>
<circle cx="649.66" cy="31.88" r="1.9" fill="#bccbe8" stroke="#000" stroke-width="1.15"/>
<circle cx="650.63" cy="31.34" r="1.9" fill="#bccbe8" stroke="#000" stroke-width="1.15"/>
<circle cx="651.72" cy="35.21" r="1.9" fill="#bccbe8" stroke="#000" stroke-width="1.15"/>
<circle cx="652.49" cy="25.75" r="1.9" fill="#bccbe8" stroke="#000" stroke-width="1.15"/>
<circle cx="653.75" cy="38.21" r="1.9" fill="#bccbe8" stroke="#000" stroke-width="1.15"/>
<circle cx="654.83" cy="32.84" r="1.9" fill="#bccbe8" stroke="#000" stroke-width="1.15"/>
<circle cx="655.91" cy="32.08" r="1.9" fill="#bccbe8" stroke="#000" stroke-width="1.15"/>
<circle cx="656.8" cy="35.65" r="1.9" fill="#bccbe8" stroke="#000" stroke-width="1.15"/>
<circle cx="657.76" cy="34.04" r="1.9" fill="#bccbe8" stroke="#000" stroke-width="1.15"/>
<circle cx="658.4" cy="36.25" r="1.9" fill="#bccbe8" stroke="#000" stroke-width="1.15"/>
<circle cx="659.08" cy="33.97" r="1.9" fill="#bccbe8" stroke="#000" stroke-width="1.15"/>
<circle cx="659.78" cy="37.42" r="1.9" fill="#bccbe8" stroke="#000" stroke-width="1.15"/>
<circle cx="660.39" cy="29.7" r="1.9" fill="#bccbe8" stroke="#000" stroke-width="1.15"/>
<circle cx="661.09" cy="35.33" r="1.9" fill="#bccbe8" stroke="#000" stroke-width="1.15"/>
<circle cx="662.03" cy="32.85" r="1.9" fill="#bccbe8" stroke="#000" stroke-width="1.15"/>
<circle cx="663.2" cy="37.05" r="1.9" fill="#bccbe8" stroke="#000" stroke-width="1.15"/>
<circle cx="663.95" cy="33.21" r="1.9" fill="#bccbe8" stroke="#000" stroke-width="1.15"/>
<circle cx="665.17" cy="25.13" r="1.9" fill="#bccbe8" stroke="#000" stroke-width="1.15"/>
<circle cx="666.04" cy="25.86" r="1.9" fill="#bccbe8" stroke="#000" stroke-width="1.15"/>
<circle cx="667.27" cy="30.66" r="1.9" fill="#bccbe8" stroke="#000" stroke-width="1.15"/>
<circle cx="667.97" cy="27.74" r="1.9" fill="#bccbe8" stroke="#000" stroke-width="1.15"/>
<circle cx="669.22" cy="31.1" r="1.9" fill="#bccbe8" stroke="#000" stroke-width="1.15"/>
<circle cx="669.86" cy="39.56" r="1.9" fill="#bccbe8" stroke="#000" stroke-width="1.15"/>
<circle cx="670.94" cy="32.15" r="1.9" fill="#bccbe8" stroke="#000" stroke-width="1.15"/>
<circle cx="671.73" cy="28.23" r="1.9" fill="#bccbe8" stroke="#000" stroke-width="1.15"/>
<circle cx="672.41" cy="34.57" r="1.9" fill="#bccbe8" stroke="#000" stroke-width="1.15"/>
<circle cx="673.24" cy="35.83" r="1.9" fill="#bccbe8" stroke="#000" stroke-width="1.15"/>
<circle cx="674.32" cy="39.41" r="1.9" fill="#bccbe8" stroke="#000" stroke-width="1.15"/>
<circle cx="675.44" cy="33.1" r="1.9" fill="#bccbe8" stroke="#000" stroke-width="1.15"/>
<circle cx="676.39" cy="36.57" r="1.9" fill="#bccbe8" stroke="#000" stroke-width="1.15"/>
<circle cx="677.07" cy="35.11" r="1.9" fill="#bccbe8" stroke="#000" stroke-width="1.15"/>
</g>
<rect x="420.6" y="10.1" width="256.1" height="149.3" fill="none" stroke="#000" stroke-width="1.65"/>
<line x1="459.7" y1="159.4" x2="459.7" y2="155.9" stroke="#000" stroke-width="0.8"/>
<line x1="459.7" y1="10.1" x2="459.7" y2="13.6" stroke="#000" stroke-width="0.8"/>
<text x="459.7" y="169.8" font-size="8.7" text-anchor="middle" fill="#2c2c2c" textLength="9.7" lengthAdjust="spacingAndGlyphs">50</text>
<line x1="503.12" y1="159.4" x2="503.12" y2="155.9" stroke="#000" stroke-width="0.8"/>
<line x1="503.12" y1="10.1" x2="503.12" y2="13.6" stroke="#000" stroke-width="0.8"/>
<text x="503.12" y="169.8" font-size="8.7" text-anchor="middle" fill="#2c2c2c" textLength="14.55" lengthAdjust="spacingAndGlyphs">100</text>
<line x1="546.55" y1="159.4" x2="546.55" y2="155.9" stroke="#000" stroke-width="0.8"/>
<line x1="546.55" y1="10.1" x2="546.55" y2="13.6" stroke="#000" stroke-width="0.8"/>
<text x="546.55" y="169.8" font-size="8.7" text-anchor="middle" fill="#2c2c2c" textLength="14.55" lengthAdjust="spacingAndGlyphs">150</text>
<line x1="589.98" y1="159.4" x2="589.98" y2="155.9" stroke="#000" stroke-width="0.8"/>
<line x1="589.98" y1="10.1" x2="589.98" y2="13.6" stroke="#000" stroke-width="0.8"/>
<text x="589.98" y="169.8" font-size="8.7" text-anchor="middle" fill="#2c2c2c" textLength="14.55" lengthAdjust="spacingAndGlyphs">200</text>
<line x1="633.4" y1="159.4" x2="633.4" y2="155.9" stroke="#000" stroke-width="0.8"/>
<line x1="633.4" y1="10.1" x2="633.4" y2="13.6" stroke="#000" stroke-width="0.8"/>
<text x="633.4" y="169.8" font-size="8.7" text-anchor="middle" fill="#2c2c2c" textLength="14.55" lengthAdjust="spacingAndGlyphs">250</text>
<line x1="676.83" y1="159.4" x2="676.83" y2="155.9" stroke="#000" stroke-width="0.8"/>
<line x1="676.83" y1="10.1" x2="676.83" y2="13.6" stroke="#000" stroke-width="0.8"/>
<text x="676.83" y="169.8" font-size="8.7" text-anchor="middle" fill="#2c2c2c" textLength="14.55" lengthAdjust="spacingAndGlyphs">300</text>
<line x1="420.6" y1="148.5" x2="424.1" y2="148.5" stroke="#000" stroke-width="0.8"/>
<line x1="676.7" y1="148.5" x2="673.2" y2="148.5" stroke="#000" stroke-width="0.8"/>
<text x="417.3" y="151.6" font-size="8.7" text-anchor="end" fill="#2c2c2c" textLength="12.8" lengthAdjust="spacingAndGlyphs">0.8</text>
<line x1="420.6" y1="127.2" x2="424.1" y2="127.2" stroke="#000" stroke-width="0.8"/>
<line x1="676.7" y1="127.2" x2="673.2" y2="127.2" stroke="#000" stroke-width="0.8"/>
<text x="417.3" y="130.3" font-size="8.7" text-anchor="end" fill="#2c2c2c" textLength="12.8" lengthAdjust="spacingAndGlyphs">1.0</text>
<line x1="420.6" y1="105.9" x2="424.1" y2="105.9" stroke="#000" stroke-width="0.8"/>
<line x1="676.7" y1="105.9" x2="673.2" y2="105.9" stroke="#000" stroke-width="0.8"/>
<text x="417.3" y="109" font-size="8.7" text-anchor="end" fill="#2c2c2c" textLength="12.8" lengthAdjust="spacingAndGlyphs">1.2</text>
<line x1="420.6" y1="84.6" x2="424.1" y2="84.6" stroke="#000" stroke-width="0.8"/>
<line x1="676.7" y1="84.6" x2="673.2" y2="84.6" stroke="#000" stroke-width="0.8"/>
<text x="417.3" y="87.7" font-size="8.7" text-anchor="end" fill="#2c2c2c" textLength="12.8" lengthAdjust="spacingAndGlyphs">1.4</text>
<line x1="420.6" y1="63.3" x2="424.1" y2="63.3" stroke="#000" stroke-width="0.8"/>
<line x1="676.7" y1="63.3" x2="673.2" y2="63.3" stroke="#000" stroke-width="0.8"/>
<text x="417.3" y="66.4" font-size="8.7" text-anchor="end" fill="#2c2c2c" textLength="12.8" lengthAdjust="spacingAndGlyphs">1.6</text>
<line x1="420.6" y1="42" x2="424.1" y2="42" stroke="#000" stroke-width="0.8"/>
<line x1="676.7" y1="42" x2="673.2" y2="42" stroke="#000" stroke-width="0.8"/>
<text x="417.3" y="45.1" font-size="8.7" text-anchor="end" fill="#2c2c2c" textLength="12.8" lengthAdjust="spacingAndGlyphs">1.8</text>
<line x1="420.6" y1="20.7" x2="424.1" y2="20.7" stroke="#000" stroke-width="0.8"/>
<line x1="676.7" y1="20.7" x2="673.2" y2="20.7" stroke="#000" stroke-width="0.8"/>
<text x="417.3" y="23.8" font-size="8.7" text-anchor="end" fill="#2c2c2c" textLength="12.8" lengthAdjust="spacingAndGlyphs">2.0</text>
<text x="431.6" y="7.9" font-size="8.7" text-anchor="middle" fill="#2c2c2c" textLength="19.9" lengthAdjust="spacingAndGlyphs">1e−8</text>
<text x="442.5" y="27.3" font-size="12.5" text-anchor="middle" fill="#2c2c2c" textLength="13.5" lengthAdjust="spacingAndGlyphs">(c)</text>
<text x="548.3" y="181.9" font-size="9.3" text-anchor="middle" fill="#2c2c2c" textLength="71.5" lengthAdjust="spacingAndGlyphs">Temperature (K)</text>
<text transform="translate(399.5 85.2) rotate(-90)" font-size="9.3" text-anchor="middle" fill="#262626" textLength="122.8" lengthAdjust="spacingAndGlyphs">Mag. susceptibility (m<tspan font-size="6.5" dy="-3.5">3</tspan><tspan dy="3.5">/mol)</tspan></text>
<text x="557" y="89.9" font-size="9" text-anchor="start" fill="#444">T</text>
<text x="561.2" y="91.6" font-size="6.3" text-anchor="start" fill="#444">N</text>
<rect x="622.3" y="126.3" width="50" height="28.9" fill="#fff" stroke="#222" stroke-width="0.8"/>
<rect x="633.2" y="130.8" width="4.4" height="4.4" fill="#bc2c3a"/>
<circle cx="635.4" cy="146.4" r="1.9" fill="#bccbe8" stroke="#000" stroke-width="1.15"/>
<text x="652.3" y="136.6" font-size="9.2" text-anchor="start" fill="#2c2c2c" textLength="11.1" lengthAdjust="spacingAndGlyphs">FC</text>
<text x="652.1" y="150.2" font-size="9.2" text-anchor="start" fill="#2c2c2c" textLength="15.8" lengthAdjust="spacingAndGlyphs">ZFC</text>
<clipPath id="cd"><rect x="421.05" y="204.8" width="258.25" height="150.5"/></clipPath>
<g clip-path="url(#cd)">
<line x1="545.9" y1="204.8" x2="545.9" y2="355.3" stroke="#eba195" stroke-width="1.2"/>
<polyline points="415.75,205.27 417.85,207 419.95,208.73 422.05,210.47 424.14,212.22 426.24,213.98 428.34,215.74 430.44,217.52 432.53,219.3 434.63,221.09 436.73,222.89 438.83,224.7 440.92,226.52 443.02,228.34 445.12,230.18 447.22,232.03 449.31,233.89 451.41,235.76 453.51,237.64 455.61,239.53 457.7,241.43 459.8,243.35 461.9,245.28 464,247.22 466.1,249.17 468.19,251.14 470.29,253.12 472.39,255.12 474.49,257.13 476.58,259.16 478.68,261.2 480.78,263.27 482.88,265.34 484.97,267.44 487.07,269.56 489.17,271.7 491.27,273.86 493.36,276.04 495.46,278.24 497.56,280.47 499.66,282.72 501.75,285 503.85,287.32 505.95,289.66 508.05,292.03 510.14,294.44 512.24,296.89 514.34,299.38 516.44,301.91 518.53,304.49 520.63,307.11 522.73,309.78 524.83,312.47 526.92,315.17 529.02,317.83 531.12,320.43 533.22,322.93 533.42,323.18 533.63,323.42 533.84,323.66 534.05,323.91 534.26,324.15 534.47,324.39 534.68,324.63 534.89,324.87 535.1,325.11 535.31,325.35 535.52,325.59 535.73,325.82 535.94,326.06 536.15,326.3 536.36,326.55 536.57,326.79 536.78,327.03 536.99,327.27 537.2,327.52 537.41,327.77 537.62,328.02 537.83,328.27 538.04,328.52 538.25,328.78 538.46,329.04 538.67,329.31 538.88,329.58 539.09,329.85 539.3,330.13 539.51,330.42 539.72,330.72 539.93,331.02 540.14,331.33 540.35,331.64 540.56,331.97 540.77,332.31 540.98,332.66 541.19,333.03 541.4,333.41 541.61,333.8 541.81,334.22 542.02,334.65 542.23,335.1 542.44,335.58 542.65,336.09 542.86,336.62 543.07,337.18 543.28,337.79 543.49,338.43 543.7,339.11 543.91,339.84 544.12,340.63 544.33,341.49 544.54,342.41 544.75,343.41 544.96,344.51 545.17,345.72 545.38,347.07 545.59,348.62 545.8,350.7" fill="none" stroke="#000" stroke-width="1.3"/>
<polyline points="415.75,211.21 417.85,212.26 419.95,213.31 422.05,214.37 424.14,215.45 426.24,216.53 428.34,217.62 430.44,218.72 432.53,219.84 434.63,220.96 436.73,222.1 438.83,223.25 440.92,224.41 443.02,225.58 445.12,226.77 447.22,227.97 449.31,229.18 451.41,230.41 453.51,231.65 455.61,232.91 457.7,234.18 459.8,235.47 461.9,236.78 464,238.11 466.1,239.45 468.19,240.81 470.29,242.19 472.39,243.6 474.49,245.02 476.58,246.47 478.68,247.94 480.78,249.44 482.88,250.96 484.97,252.51 487.07,254.09 489.17,255.7 491.27,257.34 493.36,259.02 495.46,260.73 497.56,262.48 499.66,264.27 501.75,266.11 503.85,268 505.95,269.93 508.05,271.93 510.14,273.98 512.24,276.1 514.34,278.29 516.44,280.56 518.53,282.92 520.63,285.38 522.73,287.96 524.83,290.66 526.92,293.51 529.02,296.54 531.12,299.78 533.22,303.28 533.42,303.65 533.63,304.02 533.84,304.39 534.05,304.77 534.26,305.15 534.47,305.53 534.68,305.92 534.89,306.31 535.1,306.71 535.31,307.11 535.52,307.52 535.73,307.93 535.94,308.34 536.15,308.76 536.36,309.18 536.57,309.61 536.78,310.05 536.99,310.49 537.2,310.93 537.41,311.38 537.62,311.84 537.83,312.3 538.04,312.77 538.25,313.25 538.46,313.73 538.67,314.23 538.88,314.73 539.09,315.23 539.3,315.75 539.51,316.27 539.72,316.81 539.93,317.35 540.14,317.91 540.35,318.48 540.56,319.06 540.77,319.65 540.98,320.25 541.19,320.87 541.4,321.5 541.61,322.16 541.81,322.82 542.02,323.51 542.23,324.22 542.44,324.95 542.65,325.71 542.86,326.49 543.07,327.31 543.28,328.16 543.49,329.04 543.7,329.98 543.91,330.96 544.12,332.01 544.33,333.13 544.54,334.33 544.75,335.66 544.96,337.13 545.17,338.82 545.38,340.85 545.59,343.55 545.8,350.7" fill="none" stroke="#000" stroke-width="1.1" stroke-dasharray="3.7,1.4"/>
<polyline points="415.75,213.52 417.85,214.08 419.95,214.65 422.05,215.22 424.14,215.8 426.24,216.39 428.34,216.98 430.44,217.59 432.53,218.2 434.63,218.82 436.73,219.45 438.83,220.08 440.92,220.73 443.02,221.39 445.12,222.06 447.22,222.74 449.31,223.42 451.41,224.12 453.51,224.84 455.61,225.56 457.7,226.3 459.8,227.05 461.9,227.81 464,228.59 466.1,229.39 468.19,230.2 470.29,231.03 472.39,231.87 474.49,232.73 476.58,233.62 478.68,234.52 480.78,235.44 482.88,236.39 484.97,237.36 487.07,238.36 489.17,239.38 491.27,240.44 493.36,241.52 495.46,242.64 497.56,243.79 499.66,244.98 501.75,246.22 503.85,247.5 505.95,248.82 508.05,250.21 510.14,251.65 512.24,253.16 514.34,254.74 516.44,256.4 518.53,258.16 520.63,260.02 522.73,262.01 524.83,264.14 526.92,266.43 529.02,268.94 531.12,271.69 533.22,274.77 533.42,275.1 533.63,275.44 533.84,275.78 534.05,276.12 534.26,276.47 534.47,276.82 534.68,277.18 534.89,277.54 535.1,277.91 535.31,278.28 535.52,278.66 535.73,279.05 535.94,279.44 536.15,279.84 536.36,280.25 536.57,280.66 536.78,281.08 536.99,281.51 537.2,281.95 537.41,282.39 537.62,282.85 537.83,283.31 538.04,283.78 538.25,284.26 538.46,284.76 538.67,285.26 538.88,285.78 539.09,286.31 539.3,286.85 539.51,287.41 539.72,287.99 539.93,288.57 540.14,289.18 540.35,289.8 540.56,290.45 540.77,291.12 540.98,291.8 541.19,292.52 541.4,293.26 541.61,294.03 541.81,294.83 542.02,295.68 542.23,296.56 542.44,297.48 542.65,298.46 542.86,299.49 543.07,300.6 543.28,301.78 543.49,303.05 543.7,304.43 543.91,305.95 544.12,307.64 544.33,309.56 544.54,311.79 544.75,314.49 544.96,317.98 545.17,323.19 545.38,350.7" fill="none" stroke="#000" stroke-width="1.0" stroke-dasharray="1.15,1.35"/>
<rect x="420.5" y="206.5" width="3" height="3" fill="#000"/>
<rect x="428.7" y="212.1" width="3" height="3" fill="#000"/>
<rect x="436.9" y="220.8" width="3" height="3" fill="#000"/>
<rect x="440.9" y="223.9" width="3" height="3" fill="#000"/>
<rect x="445" y="230" width="3" height="3" fill="#000"/>
<rect x="449.1" y="233.1" width="3" height="3" fill="#000"/>
<rect x="453.2" y="240.9" width="3" height="3" fill="#000"/>
<rect x="457.3" y="239.5" width="3" height="3" fill="#000"/>
<rect x="460.9" y="246.7" width="3" height="3" fill="#000"/>
<rect x="465" y="245" width="3" height="3" fill="#000"/>
<rect x="469.5" y="247.7" width="3" height="3" fill="#000"/>
<rect x="474.2" y="257.3" width="3" height="3" fill="#000"/>
<rect x="477.7" y="259.9" width="3" height="3" fill="#000"/>
<rect x="481.8" y="260.9" width="3" height="3" fill="#000"/>
<rect x="486.5" y="269.1" width="3" height="3" fill="#000"/>
<rect x="494" y="275.2" width="3" height="3" fill="#000"/>
<rect x="498.1" y="280.9" width="3" height="3" fill="#000"/>
<rect x="502.8" y="288.5" width="3" height="3" fill="#000"/>
<rect x="506.9" y="289.9" width="3" height="3" fill="#000"/>
<rect x="510.3" y="292.6" width="3" height="3" fill="#000"/>
<rect x="517.1" y="304.2" width="3" height="3" fill="#000"/>
<rect x="519.3" y="303.6" width="3" height="3" fill="#000"/>
<rect x="523" y="305.6" width="3" height="3" fill="#000"/>
<rect x="534.6" y="315.8" width="3" height="3" fill="#000"/>
<rect x="534.6" y="316.8" width="3" height="3" fill="#000"/>
<rect x="546.8" y="329.8" width="3" height="3" fill="#000"/>
<rect x="543" y="335.2" width="3" height="3" fill="#000"/>
<rect x="551.4" y="336.7" width="3" height="3" fill="#000"/>
<rect x="555.3" y="338.3" width="3" height="3" fill="#000"/>
<rect x="559.5" y="342.1" width="3" height="3" fill="#000"/>
<rect x="563.5" y="342.3" width="3" height="3" fill="#000"/>
<rect x="567.5" y="342.5" width="3" height="3" fill="#000"/>
<rect x="571.5" y="342.7" width="3" height="3" fill="#000"/>
<rect x="578.5" y="343.5" width="3" height="3" fill="#000"/>
<rect x="585.5" y="344.1" width="3" height="3" fill="#000"/>
<rect x="592.5" y="344.5" width="3" height="3" fill="#000"/>
<rect x="598.5" y="344.7" width="3" height="3" fill="#000"/>
<rect x="604.5" y="344.9" width="3" height="3" fill="#000"/>
<rect x="612.8" y="346.5" width="3" height="3" fill="#000"/>
<rect x="616.5" y="346.5" width="3" height="3" fill="#000"/>
<rect x="620.5" y="346.5" width="3" height="3" fill="#000"/>
<rect x="624.5" y="346.5" width="3" height="3" fill="#000"/>
<rect x="628.5" y="346.5" width="3" height="3" fill="#000"/>
<rect x="632.5" y="346.5" width="3" height="3" fill="#000"/>
<rect x="636.5" y="346.5" width="3" height="3" fill="#000"/>
<rect x="640.8" y="346.5" width="3" height="3" fill="#000"/>
<polygon points="435,215.15 438.45,221.85 431.55,221.85" fill="#b4972c" stroke="#000" stroke-width="0.8" stroke-linejoin="miter"/>
<polygon points="489,274.45 492.45,281.15 485.55,281.15" fill="#b4972c" stroke="#000" stroke-width="0.8" stroke-linejoin="miter"/>
<polygon points="502.9,293.25 506.35,299.95 499.45,299.95" fill="#b4972c" stroke="#000" stroke-width="0.8" stroke-linejoin="miter"/>
<polygon points="516.1,298.45 519.55,305.15 512.65,305.15" fill="#b4972c" stroke="#000" stroke-width="0.8" stroke-linejoin="miter"/>
<polygon points="530.4,316.25 533.85,322.95 526.95,322.95" fill="#b4972c" stroke="#000" stroke-width="0.8" stroke-linejoin="miter"/>
<polygon points="543.5,328.85 546.95,335.55 540.05,335.55" fill="#b4972c" stroke="#000" stroke-width="0.8" stroke-linejoin="miter"/>
<polygon points="563.5,343.15 566.95,349.85 560.05,349.85" fill="#b4972c" stroke="#000" stroke-width="0.8" stroke-linejoin="miter"/>
<polygon points="568.7,344.15 572.15,350.85 565.25,350.85" fill="#b4972c" stroke="#000" stroke-width="0.8" stroke-linejoin="miter"/>
<polygon points="577.7,344.65 581.15,351.35 574.25,351.35" fill="#b4972c" stroke="#000" stroke-width="0.8" stroke-linejoin="miter"/>
<polygon points="584.2,344.75 587.65,351.45 580.75,351.45" fill="#b4972c" stroke="#000" stroke-width="0.8" stroke-linejoin="miter"/>
<polygon points="590.9,344.8 594.35,351.5 587.45,351.5" fill="#b4972c" stroke="#000" stroke-width="0.8" stroke-linejoin="miter"/>
<polygon points="597.8,344.8 601.25,351.5 594.35,351.5" fill="#b4972c" stroke="#000" stroke-width="0.8" stroke-linejoin="miter"/>
<polygon points="604.7,344.8 608.15,351.5 601.25,351.5" fill="#b4972c" stroke="#000" stroke-width="0.8" stroke-linejoin="miter"/>
<polygon points="611.5,344.8 614.95,351.5 608.05,351.5" fill="#b4972c" stroke="#000" stroke-width="0.8" stroke-linejoin="miter"/>
<polygon points="624.5,345.25 627.95,351.95 621.05,351.95" fill="#b4972c" stroke="#000" stroke-width="0.8" stroke-linejoin="miter"/>
<polygon points="652,345.3 655.45,352 648.55,352" fill="#b4972c" stroke="#000" stroke-width="0.8" stroke-linejoin="miter"/>
<polygon points="679,345.65 682.45,352.35 675.55,352.35" fill="#b4972c" stroke="#000" stroke-width="0.8" stroke-linejoin="miter"/>
<circle cx="440.4" cy="217.7" r="2.85" fill="#648ccb" stroke="#111" stroke-width="0.8"/>
<circle cx="491" cy="274.7" r="2.85" fill="#648ccb" stroke="#111" stroke-width="0.8"/>
<circle cx="535.3" cy="329.7" r="2.85" fill="#648ccb" stroke="#111" stroke-width="0.8"/>
<circle cx="555.4" cy="344.2" r="2.85" fill="#648ccb" stroke="#111" stroke-width="0.8"/>
<circle cx="557.7" cy="345.2" r="2.85" fill="#648ccb" stroke="#111" stroke-width="0.8"/>
<circle cx="560.3" cy="342.6" r="2.85" fill="#648ccb" stroke="#111" stroke-width="0.8"/>
<circle cx="572.6" cy="348.2" r="2.85" fill="#648ccb" stroke="#111" stroke-width="0.8"/>
<circle cx="625" cy="349.2" r="2.85" fill="#648ccb" stroke="#111" stroke-width="0.8"/>
</g>
<rect x="421.05" y="204.8" width="258.25" height="150.5" fill="none" stroke="#000" stroke-width="1.65"/>
<line x1="461.9" y1="355.3" x2="461.9" y2="351.8" stroke="#000" stroke-width="0.8"/>
<line x1="461.9" y1="204.8" x2="461.9" y2="208.3" stroke="#000" stroke-width="0.8"/>
<text x="461.9" y="365.6" font-size="8.9" text-anchor="middle" fill="#2c2c2c" textLength="23.3" lengthAdjust="spacingAndGlyphs">−0.02</text>
<line x1="503.85" y1="355.3" x2="503.85" y2="351.8" stroke="#000" stroke-width="0.8"/>
<line x1="503.85" y1="204.8" x2="503.85" y2="208.3" stroke="#000" stroke-width="0.8"/>
<text x="503.85" y="365.6" font-size="8.9" text-anchor="middle" fill="#2c2c2c" textLength="23.3" lengthAdjust="spacingAndGlyphs">−0.01</text>
<line x1="545.8" y1="355.3" x2="545.8" y2="351.8" stroke="#000" stroke-width="0.8"/>
<line x1="545.8" y1="204.8" x2="545.8" y2="208.3" stroke="#000" stroke-width="0.8"/>
<text x="545.8" y="365.6" font-size="8.9" text-anchor="middle" fill="#2c2c2c" textLength="17.6" lengthAdjust="spacingAndGlyphs">0.00</text>
<line x1="587.75" y1="355.3" x2="587.75" y2="351.8" stroke="#000" stroke-width="0.8"/>
<line x1="587.75" y1="204.8" x2="587.75" y2="208.3" stroke="#000" stroke-width="0.8"/>
<text x="587.75" y="365.6" font-size="8.9" text-anchor="middle" fill="#2c2c2c" textLength="17.6" lengthAdjust="spacingAndGlyphs">0.01</text>
<line x1="629.7" y1="355.3" x2="629.7" y2="351.8" stroke="#000" stroke-width="0.8"/>
<line x1="629.7" y1="204.8" x2="629.7" y2="208.3" stroke="#000" stroke-width="0.8"/>
<text x="629.7" y="365.6" font-size="8.9" text-anchor="middle" fill="#2c2c2c" textLength="17.6" lengthAdjust="spacingAndGlyphs">0.02</text>
<line x1="671.65" y1="355.3" x2="671.65" y2="351.8" stroke="#000" stroke-width="0.8"/>
<line x1="671.65" y1="204.8" x2="671.65" y2="208.3" stroke="#000" stroke-width="0.8"/>
<text x="671.65" y="365.6" font-size="8.9" text-anchor="middle" fill="#2c2c2c" textLength="17.6" lengthAdjust="spacingAndGlyphs">0.03</text>
<line x1="421.05" y1="350.7" x2="424.55" y2="350.7" stroke="#000" stroke-width="0.8"/>
<line x1="679.3" y1="350.7" x2="675.8" y2="350.7" stroke="#000" stroke-width="0.8"/>
<text x="417.4" y="353.8" font-size="8.9" text-anchor="end" fill="#2c2c2c" textLength="12.8" lengthAdjust="spacingAndGlyphs">0.0</text>
<line x1="421.05" y1="324.1" x2="424.55" y2="324.1" stroke="#000" stroke-width="0.8"/>
<line x1="679.3" y1="324.1" x2="675.8" y2="324.1" stroke="#000" stroke-width="0.8"/>
<text x="417.4" y="327.2" font-size="8.9" text-anchor="end" fill="#2c2c2c" textLength="12.8" lengthAdjust="spacingAndGlyphs">0.2</text>
<line x1="421.05" y1="297.5" x2="424.55" y2="297.5" stroke="#000" stroke-width="0.8"/>
<line x1="679.3" y1="297.5" x2="675.8" y2="297.5" stroke="#000" stroke-width="0.8"/>
<text x="417.4" y="300.6" font-size="8.9" text-anchor="end" fill="#2c2c2c" textLength="12.8" lengthAdjust="spacingAndGlyphs">0.4</text>
<line x1="421.05" y1="270.9" x2="424.55" y2="270.9" stroke="#000" stroke-width="0.8"/>
<line x1="679.3" y1="270.9" x2="675.8" y2="270.9" stroke="#000" stroke-width="0.8"/>
<text x="417.4" y="274" font-size="8.9" text-anchor="end" fill="#2c2c2c" textLength="12.8" lengthAdjust="spacingAndGlyphs">0.6</text>
<line x1="421.05" y1="244.3" x2="424.55" y2="244.3" stroke="#000" stroke-width="0.8"/>
<line x1="679.3" y1="244.3" x2="675.8" y2="244.3" stroke="#000" stroke-width="0.8"/>
<text x="417.4" y="247.4" font-size="8.9" text-anchor="end" fill="#2c2c2c" textLength="12.8" lengthAdjust="spacingAndGlyphs">0.8</text>
<line x1="421.05" y1="217.7" x2="424.55" y2="217.7" stroke="#000" stroke-width="0.8"/>
<line x1="679.3" y1="217.7" x2="675.8" y2="217.7" stroke="#000" stroke-width="0.8"/>
<text x="417.4" y="220.8" font-size="8.9" text-anchor="end" fill="#2c2c2c" textLength="12.8" lengthAdjust="spacingAndGlyphs">1.0</text>
<text x="550.4" y="377" font-size="9.3" text-anchor="middle" fill="#2c2c2c" textLength="101" lengthAdjust="spacingAndGlyphs">Reduced temperature</text>
<text x="400.3" y="280.2" font-size="9.3" text-anchor="middle" fill="#2c2c2c" transform="rotate(-90 400.3 280.2)" textLength="88.6" lengthAdjust="spacingAndGlyphs">Normalized intensity</text>
<text x="440.3" y="343.4" font-size="12.5" text-anchor="middle" fill="#2c2c2c" textLength="15" lengthAdjust="spacingAndGlyphs">(d)</text>
<text x="552.2" y="309.2" font-size="9" text-anchor="start" fill="#444">T</text>
<text x="556.4" y="311.2" font-size="6.3" text-anchor="start" fill="#444">N</text>
<rect x="560.6" y="208.9" width="114.3" height="83.4" fill="#fff" stroke="#222" stroke-width="0.8"/>
<line x1="563.9" y1="217.1" x2="582.6" y2="217.1" stroke="#000" stroke-width="1.3"/>
<line x1="564" y1="230.8" x2="582.7" y2="230.8" stroke="#000" stroke-width="1.1" stroke-dasharray="3.7,1.3"/>
<line x1="564" y1="244.5" x2="582.7" y2="244.5" stroke="#000" stroke-width="1.0" stroke-dasharray="1.15,1.35"/>
<rect x="571.9" y="256.7" width="3" height="3" fill="#000"/>
<polygon points="573.4,267.55 576.85,274.25 569.95,274.25" fill="#b4972c" stroke="#000" stroke-width="0.8" stroke-linejoin="miter"/>
<circle cx="573.4" cy="283.4" r="2.85" fill="#648ccb" stroke="#111" stroke-width="0.8"/>
<text x="589.4" y="220.4" font-size="9.2" text-anchor="start" fill="#2c2c2c" textLength="70.2" lengthAdjust="spacingAndGlyphs">β = 0.367 ± 0.013</text>
<text x="589.4" y="234.4" font-size="9.2" text-anchor="start" fill="#2c2c2c" textLength="72.6" lengthAdjust="spacingAndGlyphs">β = 0.231 (2D XY)</text>
<text x="589.4" y="247.9" font-size="9.2" text-anchor="start" fill="#2c2c2c" textLength="81.6" lengthAdjust="spacingAndGlyphs">β = 0.125 (2D Ising)</text>
<text x="589.4" y="261.5" font-size="9.2" text-anchor="start" fill="#2c2c2c" textLength="55.5" lengthAdjust="spacingAndGlyphs">Monte Carlo</text>
<text x="589.4" y="274.2" font-size="9.2" text-anchor="start" fill="#2c2c2c" textLength="18.5" lengthAdjust="spacingAndGlyphs">ALS</text>
<text x="589.4" y="286.7" font-size="9.2" text-anchor="start" fill="#2c2c2c" textLength="19.5" lengthAdjust="spacingAndGlyphs">SSRL</text>
</svg></body></html>
